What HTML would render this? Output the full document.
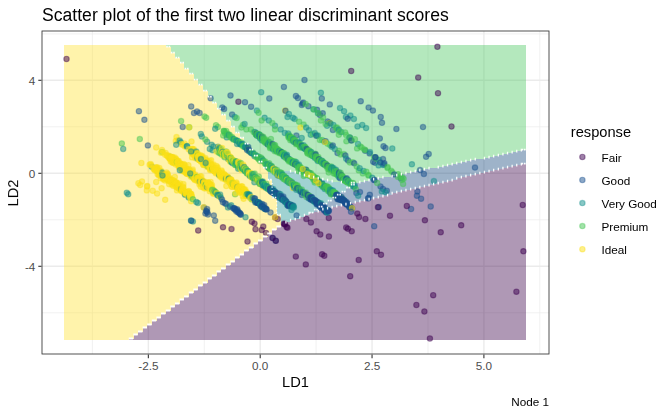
<!DOCTYPE html>
<html><head><meta charset="utf-8"><title>Scatter plot</title>
<style>
html,body{margin:0;padding:0;background:#fff;}
svg{display:block;}
text{font-family:"Liberation Sans",sans-serif;}
.tx{opacity:.999;}
.pt circle{fill-opacity:.5;stroke-opacity:.42;stroke-width:1.1;}
</style></head><body>
<svg width="672" height="415" viewBox="0 0 672 415">
<rect width="672" height="415" fill="#fff"/>

<g stroke="#ebebeb" fill="none">
<line x1="92.4" x2="92.4" y1="31" y2="354" stroke-width=".7"/>
<line x1="204.3" x2="204.3" y1="31" y2="354" stroke-width=".7"/>
<line x1="316.1" x2="316.1" y1="31" y2="354" stroke-width=".7"/>
<line x1="428" x2="428" y1="31" y2="354" stroke-width=".7"/>
<line x1="539.8" x2="539.8" y1="31" y2="354" stroke-width=".7"/>
<line x1="42" x2="549" y1="33.9" y2="33.9" stroke-width=".7"/>
<line x1="42" x2="549" y1="126.8" y2="126.8" stroke-width=".7"/>
<line x1="42" x2="549" y1="219.8" y2="219.8" stroke-width=".7"/>
<line x1="42" x2="549" y1="312.8" y2="312.8" stroke-width=".7"/>
<line x1="148.35" x2="148.35" y1="31" y2="354" stroke-width="1.4"/>
<line x1="260.2" x2="260.2" y1="31" y2="354" stroke-width="1.4"/>
<line x1="372.05" x2="372.05" y1="31" y2="354" stroke-width="1.4"/>
<line x1="483.9" x2="483.9" y1="31" y2="354" stroke-width="1.4"/>
<line x1="42" x2="549" y1="80.3" y2="80.3" stroke-width="1.4"/>
<line x1="42" x2="549" y1="173.3" y2="173.3" stroke-width="1.4"/>
<line x1="42" x2="549" y1="266.3" y2="266.3" stroke-width="1.4"/>
</g>
<g fill-opacity="0.42" shape-rendering="crispEdges">
<polygon fill="#ffe237" points="64.4,45.2 69.02,45.2 69.02,45.2 73.63,45.2 73.63,45.2 78.25,45.2 78.25,45.2 82.86,45.2 82.86,45.2 87.48,45.2 87.48,45.2 92.1,45.2 92.1,45.2 96.71,45.2 96.71,45.2 101.33,45.2 101.33,45.2 105.94,45.2 105.94,45.2 110.56,45.2 110.56,45.2 115.18,45.2 115.18,45.2 119.79,45.2 119.79,45.2 124.41,45.2 124.41,45.2 129.02,45.2 129.02,45.2 133.64,45.2 133.64,45.2 138.26,45.2 138.26,45.2 142.87,45.2 142.87,45.2 147.49,45.2 147.49,45.2 152.1,45.2 152.1,45.2 156.72,45.2 156.72,45.2 161.34,45.2 161.34,45.2 165.95,45.2 165.95,47 170.57,47 170.57,53 175.18,53 175.18,58 179.8,58 179.8,63 184.42,63 184.42,69 189.03,69 189.03,74 193.65,74 193.65,80 198.26,80 198.26,85 202.88,85 202.88,91 207.5,91 207.5,97 212.11,97 212.11,103 216.73,103 216.73,109 221.34,109 221.34,115 225.96,115 225.96,121 230.58,121 230.58,127 235.19,127 235.19,133 239.81,133 239.81,138 244.42,138 244.42,144 249.04,144 249.04,150 253.66,150 253.66,156 258.27,156 258.27,162 262.89,162 262.89,168 267.5,168 267.5,180 272.12,180 272.12,198 276.74,198 276.74,215 281.35,215 281.35,227 276.74,227 276.74,230 272.12,230 272.12,234 267.5,234 267.5,237 262.89,237 262.89,241 258.27,241 258.27,244 253.66,244 253.66,248 249.04,248 249.04,251 244.42,251 244.42,255 239.81,255 239.81,258 235.19,258 235.19,262 230.58,262 230.58,265 225.96,265 225.96,269 221.34,269 221.34,272 216.73,272 216.73,276 212.11,276 212.11,279 207.5,279 207.5,283 202.88,283 202.88,286 198.26,286 198.26,290 193.65,290 193.65,293 189.03,293 189.03,297 184.42,297 184.42,300 179.8,300 179.8,304 175.18,304 175.18,307 170.57,307 170.57,311 165.95,311 165.95,314 161.34,314 161.34,318 156.72,318 156.72,321 152.1,321 152.1,325 147.49,325 147.49,328 142.87,328 142.87,332 138.26,332 138.26,335 133.64,335 133.64,339 129.02,339 129.02,339.6 124.41,339.6 124.41,339.6 119.79,339.6 119.79,339.6 115.18,339.6 115.18,339.6 110.56,339.6 110.56,339.6 105.94,339.6 105.94,339.6 101.33,339.6 101.33,339.6 96.71,339.6 96.71,339.6 92.1,339.6 92.1,339.6 87.48,339.6 87.48,339.6 82.86,339.6 82.86,339.6 78.25,339.6 78.25,339.6 73.63,339.6 73.63,339.6 69.02,339.6 69.02,339.6 64.4,339.6"/>
<polygon fill="#4cc862" points="165.95,45.2 170.57,45.2 170.57,45.2 175.18,45.2 175.18,45.2 179.8,45.2 179.8,45.2 184.42,45.2 184.42,45.2 189.03,45.2 189.03,45.2 193.65,45.2 193.65,45.2 198.26,45.2 198.26,45.2 202.88,45.2 202.88,45.2 207.5,45.2 207.5,45.2 212.11,45.2 212.11,45.2 216.73,45.2 216.73,45.2 221.34,45.2 221.34,45.2 225.96,45.2 225.96,45.2 230.58,45.2 230.58,45.2 235.19,45.2 235.19,45.2 239.81,45.2 239.81,45.2 244.42,45.2 244.42,45.2 249.04,45.2 249.04,45.2 253.66,45.2 253.66,45.2 258.27,45.2 258.27,45.2 262.89,45.2 262.89,45.2 267.5,45.2 267.5,45.2 272.12,45.2 272.12,45.2 276.74,45.2 276.74,45.2 281.35,45.2 281.35,45.2 285.97,45.2 285.97,45.2 290.58,45.2 290.58,45.2 295.2,45.2 295.2,45.2 299.82,45.2 299.82,45.2 304.43,45.2 304.43,45.2 309.05,45.2 309.05,45.2 313.66,45.2 313.66,45.2 318.28,45.2 318.28,45.2 322.9,45.2 322.9,45.2 327.51,45.2 327.51,45.2 332.13,45.2 332.13,45.2 336.74,45.2 336.74,45.2 341.36,45.2 341.36,45.2 345.98,45.2 345.98,45.2 350.59,45.2 350.59,45.2 355.21,45.2 355.21,45.2 359.82,45.2 359.82,45.2 364.44,45.2 364.44,45.2 369.06,45.2 369.06,45.2 373.67,45.2 373.67,45.2 378.29,45.2 378.29,45.2 382.9,45.2 382.9,45.2 387.52,45.2 387.52,45.2 392.14,45.2 392.14,45.2 396.75,45.2 396.75,45.2 401.37,45.2 401.37,45.2 405.98,45.2 405.98,45.2 410.6,45.2 410.6,45.2 415.22,45.2 415.22,45.2 419.83,45.2 419.83,45.2 424.45,45.2 424.45,45.2 429.06,45.2 429.06,45.2 433.68,45.2 433.68,45.2 438.3,45.2 438.3,45.2 442.91,45.2 442.91,45.2 447.53,45.2 447.53,45.2 452.14,45.2 452.14,45.2 456.76,45.2 456.76,45.2 461.38,45.2 461.38,45.2 465.99,45.2 465.99,45.2 470.61,45.2 470.61,45.2 475.22,45.2 475.22,45.2 479.84,45.2 479.84,45.2 484.46,45.2 484.46,45.2 489.07,45.2 489.07,45.2 493.69,45.2 493.69,45.2 498.3,45.2 498.3,45.2 502.92,45.2 502.92,45.2 507.54,45.2 507.54,45.2 512.15,45.2 512.15,45.2 516.77,45.2 516.77,45.2 521.38,45.2 521.38,45.2 526,45.2 526,150 521.38,150 521.38,151 516.77,151 516.77,152 512.15,152 512.15,153 507.54,153 507.54,154 502.92,154 502.92,155 498.3,155 498.3,156 493.69,156 493.69,157 489.07,157 489.07,158 484.46,158 484.46,159 479.84,159 479.84,159 475.22,159 475.22,160 470.61,160 470.61,161 465.99,161 465.99,162 461.38,162 461.38,163 456.76,163 456.76,164 452.14,164 452.14,165 447.53,165 447.53,166 442.91,166 442.91,167 438.3,167 438.3,168 433.68,168 433.68,168 429.06,168 429.06,169 424.45,169 424.45,170 419.83,170 419.83,171 415.22,171 415.22,172 410.6,172 410.6,173 405.98,173 405.98,174 401.37,174 401.37,175 396.75,175 396.75,176 392.14,176 392.14,177 387.52,177 387.52,177 382.9,177 382.9,178 378.29,178 378.29,179 373.67,179 373.67,180 369.06,180 369.06,181 364.44,181 364.44,182 359.82,182 359.82,183 355.21,183 355.21,183 350.59,183 350.59,183 345.98,183 345.98,183 341.36,183 341.36,182 336.74,182 336.74,182 332.13,182 332.13,181 327.51,181 327.51,180 322.9,180 322.9,179 318.28,179 318.28,178 313.66,178 313.66,177 309.05,177 309.05,176 304.43,176 304.43,175 299.82,175 299.82,173 295.2,173 295.2,172 290.58,172 290.58,171 285.97,171 285.97,171 281.35,171 281.35,171 276.74,171 276.74,171 272.12,171 272.12,171 267.5,171 267.5,168 262.89,168 262.89,162 258.27,162 258.27,156 253.66,156 253.66,150 249.04,150 249.04,144 244.42,144 244.42,138 239.81,138 239.81,133 235.19,133 235.19,127 230.58,127 230.58,121 225.96,121 225.96,115 221.34,115 221.34,109 216.73,109 216.73,103 212.11,103 212.11,97 207.5,97 207.5,91 202.88,91 202.88,85 198.26,85 198.26,80 193.65,80 193.65,74 189.03,74 189.03,69 184.42,69 184.42,63 179.8,63 179.8,58 175.18,58 175.18,53 170.57,53 170.57,47 165.95,47"/>
<polygon fill="#1d9494" points="267.5,171 272.12,171 272.12,171 276.74,171 276.74,171 281.35,171 281.35,171 285.97,171 285.97,171 290.58,171 290.58,172 295.2,172 295.2,173 299.82,173 299.82,175 304.43,175 304.43,176 309.05,176 309.05,177 313.66,177 313.66,178 318.28,178 318.28,179 322.9,179 322.9,180 327.51,180 327.51,181 332.13,181 332.13,182 336.74,182 336.74,182 341.36,182 341.36,183 345.98,183 345.98,183 350.59,183 350.59,183 355.21,183 355.21,185 350.59,185 350.59,188 345.98,188 345.98,192 341.36,192 341.36,195 336.74,195 336.74,198 332.13,198 332.13,201 327.51,201 327.51,204 322.9,204 322.9,207 318.28,207 318.28,210 313.66,210 313.66,213 309.05,213 309.05,215 304.43,215 304.43,217 299.82,217 299.82,219 295.2,219 295.2,220 290.58,220 290.58,222 285.97,222 285.97,224 281.35,224 281.35,215 276.74,215 276.74,198 272.12,198 272.12,180 267.5,180"/>
<polygon fill="#184a7e" points="313.66,210 318.28,210 318.28,207 322.9,207 322.9,204 327.51,204 327.51,201 332.13,201 332.13,198 336.74,198 336.74,195 341.36,195 341.36,192 345.98,192 345.98,188 350.59,188 350.59,185 355.21,185 355.21,183 359.82,183 359.82,182 364.44,182 364.44,181 369.06,181 369.06,180 373.67,180 373.67,179 378.29,179 378.29,178 382.9,178 382.9,177 387.52,177 387.52,177 392.14,177 392.14,176 396.75,176 396.75,175 401.37,175 401.37,174 405.98,174 405.98,173 410.6,173 410.6,172 415.22,172 415.22,171 419.83,171 419.83,170 424.45,170 424.45,169 429.06,169 429.06,168 433.68,168 433.68,168 438.3,168 438.3,167 442.91,167 442.91,166 447.53,166 447.53,165 452.14,165 452.14,164 456.76,164 456.76,163 461.38,163 461.38,162 465.99,162 465.99,161 470.61,161 470.61,160 475.22,160 475.22,159 479.84,159 479.84,159 484.46,159 484.46,158 489.07,158 489.07,157 493.69,157 493.69,156 498.3,156 498.3,155 502.92,155 502.92,154 507.54,154 507.54,153 512.15,153 512.15,152 516.77,152 516.77,151 521.38,151 521.38,150 526,150 526,164 521.38,164 521.38,165 516.77,165 516.77,166 512.15,166 512.15,167 507.54,167 507.54,168 502.92,168 502.92,169 498.3,169 498.3,170 493.69,170 493.69,171 489.07,171 489.07,172 484.46,172 484.46,173 479.84,173 479.84,174 475.22,174 475.22,175 470.61,175 470.61,176 465.99,176 465.99,177 461.38,177 461.38,178 456.76,178 456.76,180 452.14,180 452.14,181 447.53,181 447.53,182 442.91,182 442.91,183 438.3,183 438.3,184 433.68,184 433.68,185 429.06,185 429.06,186 424.45,186 424.45,187 419.83,187 419.83,188 415.22,188 415.22,189 410.6,189 410.6,190 405.98,190 405.98,191 401.37,191 401.37,192 396.75,192 396.75,193 392.14,193 392.14,195 387.52,195 387.52,196 382.9,196 382.9,197 378.29,197 378.29,198 373.67,198 373.67,199 369.06,199 369.06,200 364.44,200 364.44,201 359.82,201 359.82,202 355.21,202 355.21,203 350.59,203 350.59,204 345.98,204 345.98,205 341.36,205 341.36,206 336.74,206 336.74,207 332.13,207 332.13,208 327.51,208 327.51,209 322.9,209 322.9,211 318.28,211 318.28,212 313.66,212"/>
<polygon fill="#410a4f" points="129.02,339 133.64,339 133.64,335 138.26,335 138.26,332 142.87,332 142.87,328 147.49,328 147.49,325 152.1,325 152.1,321 156.72,321 156.72,318 161.34,318 161.34,314 165.95,314 165.95,311 170.57,311 170.57,307 175.18,307 175.18,304 179.8,304 179.8,300 184.42,300 184.42,297 189.03,297 189.03,293 193.65,293 193.65,290 198.26,290 198.26,286 202.88,286 202.88,283 207.5,283 207.5,279 212.11,279 212.11,276 216.73,276 216.73,272 221.34,272 221.34,269 225.96,269 225.96,265 230.58,265 230.58,262 235.19,262 235.19,258 239.81,258 239.81,255 244.42,255 244.42,251 249.04,251 249.04,248 253.66,248 253.66,244 258.27,244 258.27,241 262.89,241 262.89,237 267.5,237 267.5,234 272.12,234 272.12,230 276.74,230 276.74,227 281.35,227 281.35,224 285.97,224 285.97,222 290.58,222 290.58,220 295.2,220 295.2,219 299.82,219 299.82,217 304.43,217 304.43,215 309.05,215 309.05,213 313.66,213 313.66,212 318.28,212 318.28,211 322.9,211 322.9,209 327.51,209 327.51,208 332.13,208 332.13,207 336.74,207 336.74,206 341.36,206 341.36,205 345.98,205 345.98,204 350.59,204 350.59,203 355.21,203 355.21,202 359.82,202 359.82,201 364.44,201 364.44,200 369.06,200 369.06,199 373.67,199 373.67,198 378.29,198 378.29,197 382.9,197 382.9,196 387.52,196 387.52,195 392.14,195 392.14,193 396.75,193 396.75,192 401.37,192 401.37,191 405.98,191 405.98,190 410.6,190 410.6,189 415.22,189 415.22,188 419.83,188 419.83,187 424.45,187 424.45,186 429.06,186 429.06,185 433.68,185 433.68,184 438.3,184 438.3,183 442.91,183 442.91,182 447.53,182 447.53,181 452.14,181 452.14,180 456.76,180 456.76,178 461.38,178 461.38,177 465.99,177 465.99,176 470.61,176 470.61,175 475.22,175 475.22,174 479.84,174 479.84,173 484.46,173 484.46,172 489.07,172 489.07,171 493.69,171 493.69,170 498.3,170 498.3,169 502.92,169 502.92,168 507.54,168 507.54,167 512.15,167 512.15,166 516.77,166 516.77,165 521.38,165 521.38,164 526,164 526,339.6 521.38,339.6 521.38,339.6 516.77,339.6 516.77,339.6 512.15,339.6 512.15,339.6 507.54,339.6 507.54,339.6 502.92,339.6 502.92,339.6 498.3,339.6 498.3,339.6 493.69,339.6 493.69,339.6 489.07,339.6 489.07,339.6 484.46,339.6 484.46,339.6 479.84,339.6 479.84,339.6 475.22,339.6 475.22,339.6 470.61,339.6 470.61,339.6 465.99,339.6 465.99,339.6 461.38,339.6 461.38,339.6 456.76,339.6 456.76,339.6 452.14,339.6 452.14,339.6 447.53,339.6 447.53,339.6 442.91,339.6 442.91,339.6 438.3,339.6 438.3,339.6 433.68,339.6 433.68,339.6 429.06,339.6 429.06,339.6 424.45,339.6 424.45,339.6 419.83,339.6 419.83,339.6 415.22,339.6 415.22,339.6 410.6,339.6 410.6,339.6 405.98,339.6 405.98,339.6 401.37,339.6 401.37,339.6 396.75,339.6 396.75,339.6 392.14,339.6 392.14,339.6 387.52,339.6 387.52,339.6 382.9,339.6 382.9,339.6 378.29,339.6 378.29,339.6 373.67,339.6 373.67,339.6 369.06,339.6 369.06,339.6 364.44,339.6 364.44,339.6 359.82,339.6 359.82,339.6 355.21,339.6 355.21,339.6 350.59,339.6 350.59,339.6 345.98,339.6 345.98,339.6 341.36,339.6 341.36,339.6 336.74,339.6 336.74,339.6 332.13,339.6 332.13,339.6 327.51,339.6 327.51,339.6 322.9,339.6 322.9,339.6 318.28,339.6 318.28,339.6 313.66,339.6 313.66,339.6 309.05,339.6 309.05,339.6 304.43,339.6 304.43,339.6 299.82,339.6 299.82,339.6 295.2,339.6 295.2,339.6 290.58,339.6 290.58,339.6 285.97,339.6 285.97,339.6 281.35,339.6 281.35,339.6 276.74,339.6 276.74,339.6 272.12,339.6 272.12,339.6 267.5,339.6 267.5,339.6 262.89,339.6 262.89,339.6 258.27,339.6 258.27,339.6 253.66,339.6 253.66,339.6 249.04,339.6 249.04,339.6 244.42,339.6 244.42,339.6 239.81,339.6 239.81,339.6 235.19,339.6 235.19,339.6 230.58,339.6 230.58,339.6 225.96,339.6 225.96,339.6 221.34,339.6 221.34,339.6 216.73,339.6 216.73,339.6 212.11,339.6 212.11,339.6 207.5,339.6 207.5,339.6 202.88,339.6 202.88,339.6 198.26,339.6 198.26,339.6 193.65,339.6 193.65,339.6 189.03,339.6 189.03,339.6 184.42,339.6 184.42,339.6 179.8,339.6 179.8,339.6 175.18,339.6 175.18,339.6 170.57,339.6 170.57,339.6 165.95,339.6 165.95,339.6 161.34,339.6 161.34,339.6 156.72,339.6 156.72,339.6 152.1,339.6 152.1,339.6 147.49,339.6 147.49,339.6 142.87,339.6 142.87,339.6 138.26,339.6 138.26,339.6 133.64,339.6 133.64,339.6 129.02,339.6"/>
</g>
<g class="pt">
<g fill="#3e0252" stroke="#3e0252">
<circle cx="66.5" cy="59" r="2.7"/>
<circle cx="351.2" cy="71" r="2.7"/>
<circle cx="418.2" cy="77.6" r="2.7"/>
<circle cx="437.4" cy="46.8" r="2.7"/>
<circle cx="438" cy="93.2" r="2.7"/>
<circle cx="451.5" cy="126.5" r="2.7"/>
</g>
<g fill="#1a5290" stroke="#1a5290">
<circle cx="138.9" cy="111.2" r="2.7"/>
<circle cx="144.4" cy="119.8" r="2.7"/>
<circle cx="191.2" cy="106.5" r="2.7"/>
<circle cx="194" cy="113" r="2.7"/>
<circle cx="197" cy="111.5" r="2.7"/>
<circle cx="199.6" cy="112.9" r="2.7"/>
<circle cx="182.7" cy="126.9" r="2.7"/>
</g>
<g fill="#46c554" stroke="#46c554">
<circle cx="204.5" cy="116.5" r="2.7"/>
<circle cx="206.2" cy="117.7" r="2.7"/>
<circle cx="181.1" cy="121.1" r="2.7"/>
<circle cx="189.2" cy="127.3" r="2.7"/>
</g>
<g fill="#fbe018" stroke="#fbe018">
<circle cx="189.2" cy="127.3" r="2.7"/>
</g>
<g fill="#12908c" stroke="#12908c">
<circle cx="200.8" cy="134" r="2.7"/>
</g>
<g fill="#46c554" stroke="#46c554">
<circle cx="121.8" cy="143.4" r="2.7"/>
<circle cx="139.8" cy="139.1" r="2.7"/>
<circle cx="162.1" cy="152" r="2.7"/>
</g>
<g fill="#12908c" stroke="#12908c">
<circle cx="123.2" cy="148.9" r="2.7"/>
<circle cx="126.8" cy="192.7" r="2.7"/>
<circle cx="128.2" cy="194.3" r="2.7"/>
<circle cx="151.8" cy="166.8" r="2.7"/>
</g>
<g fill="#1a5290" stroke="#1a5290">
<circle cx="147.9" cy="145.4" r="2.7"/>
</g>
<g fill="#fbe018" stroke="#fbe018">
<circle cx="156.2" cy="147.5" r="2.7"/>
<circle cx="167" cy="155.5" r="2.7"/>
<circle cx="167.9" cy="156.8" r="2.7"/>
<circle cx="141.4" cy="163" r="2.7"/>
<circle cx="149.6" cy="164.7" r="2.7"/>
<circle cx="138.4" cy="183.2" r="2.7"/>
<circle cx="142" cy="181.4" r="2.7"/>
<circle cx="140.2" cy="185" r="2.7"/>
<circle cx="147.3" cy="185.9" r="2.7"/>
<circle cx="147" cy="186.5" r="2.7"/>
<circle cx="146.8" cy="190.4" r="2.7"/>
<circle cx="152.7" cy="190.7" r="2.7"/>
<circle cx="157.1" cy="193.6" r="2.7"/>
<circle cx="161.6" cy="188.2" r="2.7"/>
<circle cx="165.2" cy="199.8" r="2.7"/>
</g>
<g fill="#12908c" stroke="#12908c">
<circle cx="191" cy="220.4" r="2.7"/>
<circle cx="192.9" cy="221.6" r="2.7"/>
</g>
<g fill="#1a5290" stroke="#1a5290">
<circle cx="191.3" cy="220.8" r="2.7"/>
<circle cx="304.5" cy="79.9" r="2.7"/>
<circle cx="283.9" cy="86.9" r="2.7"/>
<circle cx="230.5" cy="95.5" r="2.7"/>
<circle cx="269.3" cy="98.5" r="2.7"/>
<circle cx="210.6" cy="98.3" r="2.7"/>
<circle cx="245" cy="102.2" r="2.7"/>
<circle cx="251.1" cy="106.7" r="2.7"/>
<circle cx="222.3" cy="107.4" r="2.7"/>
<circle cx="224.1" cy="108.9" r="2.7"/>
<circle cx="232.1" cy="114.6" r="2.7"/>
</g>
<g fill="#3e0252" stroke="#3e0252">
<circle cx="238.4" cy="101.7" r="2.7"/>
</g>
<g fill="#12908c" stroke="#12908c">
<circle cx="261.2" cy="92.2" r="2.7"/>
<circle cx="256.8" cy="110.6" r="2.7"/>
<circle cx="234.8" cy="116.9" r="2.7"/>
</g>
<g fill="#46c554" stroke="#46c554">
<circle cx="258.6" cy="112.8" r="2.7"/>
<circle cx="236.6" cy="118.1" r="2.7"/>
</g>
<g fill="#1a5290" stroke="#1a5290">
<circle cx="295.9" cy="96" r="2.7"/>
<circle cx="297.9" cy="98.1" r="2.7"/>
<circle cx="303.2" cy="102.6" r="2.7"/>
<circle cx="301.8" cy="104.9" r="2.7"/>
<circle cx="302.6" cy="103.5" r="2.7"/>
<circle cx="308.4" cy="106.2" r="2.7"/>
<circle cx="317" cy="109.8" r="2.7"/>
</g>
<g fill="#46c554" stroke="#46c554">
<circle cx="305.7" cy="103.9" r="2.7"/>
</g>
<g fill="#12908c" stroke="#12908c">
<circle cx="313.4" cy="109.2" r="2.7"/>
<circle cx="317.9" cy="113.3" r="2.7"/>
</g>
<g fill="#46c554" stroke="#46c554">
<circle cx="313.9" cy="109.6" r="2.7"/>
</g>
<g fill="#fbe018" stroke="#fbe018">
<circle cx="285.2" cy="110.6" r="2.7"/>
</g>
<g fill="#1a5290" stroke="#1a5290">
<circle cx="285.5" cy="110.8" r="2.7"/>
</g>
<g fill="#12908c" stroke="#12908c">
<circle cx="288.9" cy="113.9" r="2.7"/>
<circle cx="287.5" cy="116.9" r="2.7"/>
<circle cx="292.9" cy="117.8" r="2.7"/>
<circle cx="294.6" cy="118.9" r="2.7"/>
</g>
<g fill="#46c554" stroke="#46c554">
<circle cx="299.1" cy="121.7" r="2.7"/>
<circle cx="303.6" cy="124.6" r="2.7"/>
</g>
<g fill="#fbe018" stroke="#fbe018">
<circle cx="300.5" cy="127.6" r="2.7"/>
</g>
<g fill="#12908c" stroke="#12908c">
<circle cx="306.2" cy="127.6" r="2.7"/>
<circle cx="308.9" cy="130.3" r="2.7"/>
<circle cx="310.7" cy="134.8" r="2.7"/>
</g>
<g fill="#1a5290" stroke="#1a5290">
<circle cx="296.4" cy="135.6" r="2.7"/>
</g>
<g fill="#46c554" stroke="#46c554">
<circle cx="317" cy="135.6" r="2.7"/>
</g>
<g fill="#12908c" stroke="#12908c">
<circle cx="264.6" cy="117.8" r="2.7"/>
<circle cx="268.8" cy="120.5" r="2.7"/>
<circle cx="275" cy="125.8" r="2.7"/>
<circle cx="280.7" cy="129.4" r="2.7"/>
<circle cx="284.8" cy="133" r="2.7"/>
</g>
<g fill="#46c554" stroke="#46c554">
<circle cx="261.6" cy="120.5" r="2.7"/>
<circle cx="272.3" cy="123.1" r="2.7"/>
<circle cx="275" cy="129.4" r="2.7"/>
<circle cx="288.4" cy="135.6" r="2.7"/>
</g>
<g fill="#1a5290" stroke="#1a5290">
<circle cx="291" cy="138.3" r="2.7"/>
</g>
<g fill="#46c554" stroke="#46c554">
<circle cx="242.9" cy="124.9" r="2.7"/>
<circle cx="241.4" cy="127.6" r="2.7"/>
<circle cx="246.4" cy="129.4" r="2.7"/>
<circle cx="250.9" cy="129.4" r="2.7"/>
<circle cx="253.6" cy="132.1" r="2.7"/>
<circle cx="256.2" cy="134.8" r="2.7"/>
<circle cx="258.9" cy="136.5" r="2.7"/>
</g>
<g fill="#12908c" stroke="#12908c">
<circle cx="244.6" cy="124" r="2.7"/>
</g>
<g fill="#46c554" stroke="#46c554">
<circle cx="216" cy="125.2" r="2.7"/>
<circle cx="217.9" cy="127" r="2.7"/>
<circle cx="225" cy="133.5" r="2.7"/>
<circle cx="223.2" cy="135.6" r="2.7"/>
</g>
<g fill="#12908c" stroke="#12908c">
<circle cx="215.2" cy="128.8" r="2.7"/>
<circle cx="226.8" cy="137.4" r="2.7"/>
<circle cx="201.8" cy="136.5" r="2.7"/>
<circle cx="320.9" cy="92.8" r="2.7"/>
<circle cx="340" cy="108.1" r="2.7"/>
<circle cx="344.1" cy="111.2" r="2.7"/>
<circle cx="345.9" cy="116.9" r="2.7"/>
<circle cx="350.4" cy="115.6" r="2.7"/>
<circle cx="353.9" cy="118.9" r="2.7"/>
<circle cx="357.5" cy="126.4" r="2.7"/>
<circle cx="362.3" cy="124.9" r="2.7"/>
<circle cx="366.1" cy="128.1" r="2.7"/>
<circle cx="392.3" cy="148.5" r="2.7"/>
<circle cx="411.9" cy="164.3" r="2.7"/>
<circle cx="433.9" cy="181.1" r="2.7"/>
</g>
<g fill="#1a5290" stroke="#1a5290">
<circle cx="321.8" cy="98.5" r="2.7"/>
<circle cx="329.8" cy="104.4" r="2.7"/>
<circle cx="347.7" cy="118.7" r="2.7"/>
<circle cx="360.7" cy="101.2" r="2.7"/>
<circle cx="368.6" cy="107.6" r="2.7"/>
<circle cx="372.9" cy="110.6" r="2.7"/>
<circle cx="380.7" cy="116.9" r="2.7"/>
<circle cx="382" cy="122.8" r="2.7"/>
<circle cx="396.4" cy="128.9" r="2.7"/>
<circle cx="423" cy="127.1" r="2.7"/>
<circle cx="379.8" cy="138.5" r="2.7"/>
<circle cx="383.5" cy="146.3" r="2.7"/>
<circle cx="385.5" cy="148" r="2.7"/>
<circle cx="428.7" cy="154" r="2.7"/>
<circle cx="426.1" cy="156.8" r="2.7"/>
<circle cx="420.1" cy="170.1" r="2.7"/>
<circle cx="423.9" cy="173.9" r="2.7"/>
<circle cx="475" cy="167.6" r="2.7"/>
<circle cx="322.7" cy="113.3" r="2.7"/>
<circle cx="320" cy="115.1" r="2.7"/>
<circle cx="327.5" cy="121.4" r="2.7"/>
<circle cx="332.9" cy="129.9" r="2.7"/>
<circle cx="350" cy="137.7" r="2.7"/>
<circle cx="365.2" cy="150.7" r="2.7"/>
<circle cx="369.6" cy="153.4" r="2.7"/>
<circle cx="373.2" cy="161.8" r="2.7"/>
<circle cx="375" cy="162.7" r="2.7"/>
<circle cx="383" cy="159.1" r="2.7"/>
<circle cx="383.9" cy="164.5" r="2.7"/>
<circle cx="400.8" cy="178.3" r="2.7"/>
</g>
<g fill="#46c554" stroke="#46c554">
<circle cx="320.9" cy="120.5" r="2.7"/>
<circle cx="337" cy="127.6" r="2.7"/>
<circle cx="337.9" cy="130.3" r="2.7"/>
<circle cx="338.8" cy="134.8" r="2.7"/>
<circle cx="346.1" cy="134.9" r="2.7"/>
<circle cx="346.4" cy="141.2" r="2.7"/>
<circle cx="351.8" cy="140.4" r="2.7"/>
<circle cx="361.6" cy="147.5" r="2.7"/>
<circle cx="357.1" cy="148.4" r="2.7"/>
<circle cx="374.1" cy="157.3" r="2.7"/>
<circle cx="376.8" cy="159.1" r="2.7"/>
<circle cx="387.5" cy="168" r="2.7"/>
<circle cx="391.1" cy="170.7" r="2.7"/>
<circle cx="398.2" cy="174.3" r="2.7"/>
<circle cx="403.6" cy="178.8" r="2.7"/>
<circle cx="398" cy="177.1" r="2.7"/>
<circle cx="401.8" cy="180.1" r="2.7"/>
<circle cx="403.1" cy="183.9" r="2.7"/>
</g>
<g fill="#1a5290" stroke="#1a5290">
<circle cx="329.5" cy="122.8" r="2.7"/>
</g>
<g fill="#fbe018" stroke="#fbe018">
<circle cx="329.8" cy="123.1" r="2.7"/>
</g>
<g fill="#12908c" stroke="#12908c">
<circle cx="327.1" cy="125.8" r="2.7"/>
<circle cx="333.4" cy="124.9" r="2.7"/>
<circle cx="341.4" cy="132.1" r="2.7"/>
<circle cx="349.5" cy="137.4" r="2.7"/>
<circle cx="358" cy="143.9" r="2.7"/>
<circle cx="378.6" cy="165.4" r="2.7"/>
<circle cx="379.2" cy="160" r="2.7"/>
<circle cx="383" cy="165" r="2.7"/>
</g>
<g fill="#1a5290" stroke="#1a5290">
<circle cx="417.4" cy="191.4" r="2.7"/>
<circle cx="416.9" cy="195.7" r="2.7"/>
<circle cx="421.1" cy="198.7" r="2.7"/>
<circle cx="430.7" cy="206.5" r="2.7"/>
<circle cx="411.1" cy="209" r="2.7"/>
<circle cx="378.8" cy="207" r="2.7"/>
<circle cx="380.5" cy="186.4" r="2.7"/>
<circle cx="383" cy="188.9" r="2.7"/>
<circle cx="386.8" cy="190.7" r="2.7"/>
</g>
<g fill="#12908c" stroke="#12908c">
<circle cx="381.8" cy="191.4" r="2.7"/>
<circle cx="385.5" cy="192.2" r="2.7"/>
</g>
<g fill="#3e0252" stroke="#3e0252">
<circle cx="406.8" cy="206" r="2.7"/>
<circle cx="390" cy="215.7" r="2.7"/>
<circle cx="424.9" cy="220.3" r="2.7"/>
<circle cx="461.2" cy="225.3" r="2.7"/>
<circle cx="440.7" cy="232.3" r="2.7"/>
<circle cx="522.7" cy="205" r="2.7"/>
<circle cx="523.4" cy="251.3" r="2.7"/>
<circle cx="516.4" cy="291.7" r="2.7"/>
<circle cx="433.2" cy="295.2" r="2.7"/>
<circle cx="416.4" cy="305" r="2.7"/>
<circle cx="424.4" cy="311.5" r="2.7"/>
<circle cx="429.9" cy="338.5" r="2.7"/>
<circle cx="381" cy="254.8" r="2.7"/>
<circle cx="223" cy="227.3" r="2.7"/>
<circle cx="231.5" cy="229.1" r="2.7"/>
<circle cx="247.5" cy="241.6" r="2.7"/>
<circle cx="251.8" cy="221.8" r="2.7"/>
<circle cx="254.5" cy="223.6" r="2.7"/>
<circle cx="255.5" cy="229.2" r="2.7"/>
<circle cx="261.7" cy="229.9" r="2.7"/>
<circle cx="263.3" cy="226.6" r="2.7"/>
<circle cx="266" cy="232.9" r="2.7"/>
<circle cx="198.2" cy="230.5" r="2.7"/>
<circle cx="277.7" cy="219.1" r="2.7"/>
<circle cx="283.9" cy="223.6" r="2.7"/>
<circle cx="286.6" cy="227.1" r="2.7"/>
<circle cx="285" cy="224.5" r="2.7"/>
<circle cx="287.5" cy="227.8" r="2.7"/>
<circle cx="284.5" cy="224" r="2.7"/>
</g>
<g fill="#1a5290" stroke="#1a5290">
<circle cx="272.7" cy="238" r="2.7"/>
<circle cx="275.7" cy="240.8" r="2.7"/>
</g>
<g fill="#3e0252" stroke="#3e0252">
<circle cx="272.5" cy="238" r="2.7"/>
<circle cx="275.8" cy="240.7" r="2.7"/>
<circle cx="306.4" cy="218.9" r="2.7"/>
<circle cx="310.9" cy="222.5" r="2.7"/>
<circle cx="316.6" cy="231.3" r="2.7"/>
<circle cx="320.3" cy="234.5" r="2.7"/>
<circle cx="328.9" cy="236.5" r="2.7"/>
<circle cx="328.8" cy="218" r="2.7"/>
<circle cx="346.2" cy="227.5" r="2.7"/>
<circle cx="347.9" cy="228.8" r="2.7"/>
<circle cx="351.7" cy="231.3" r="2.7"/>
<circle cx="357.3" cy="213.6" r="2.7"/>
<circle cx="359.1" cy="217.1" r="2.7"/>
<circle cx="365.4" cy="218.9" r="2.7"/>
<circle cx="377.9" cy="207.3" r="2.7"/>
<circle cx="376.8" cy="251.3" r="2.7"/>
<circle cx="295.8" cy="256.6" r="2.7"/>
<circle cx="305.8" cy="264.4" r="2.7"/>
<circle cx="322.1" cy="254.3" r="2.7"/>
<circle cx="324.3" cy="255.8" r="2.7"/>
<circle cx="358.7" cy="259.9" r="2.7"/>
<circle cx="350.2" cy="276.2" r="2.7"/>
</g>
<g fill="#1a5290" stroke="#1a5290">
<circle cx="374.2" cy="226.2" r="2.7"/>
</g>
<g fill="#fbe018" stroke="#fbe018">
<circle cx="155.1" cy="170.5" r="2.7"/>
<circle cx="155.5" cy="167.7" r="2.7"/>
<circle cx="155.6" cy="169.1" r="2.7"/>
<circle cx="155.8" cy="168.2" r="2.7"/>
<circle cx="156.2" cy="182" r="2.7"/>
<circle cx="156.4" cy="168.9" r="2.7"/>
<circle cx="156.5" cy="170.8" r="2.7"/>
<circle cx="156.9" cy="170.3" r="2.7"/>
<circle cx="157.1" cy="167.2" r="2.7"/>
<circle cx="157.3" cy="169.8" r="2.7"/>
<circle cx="157.6" cy="174.2" r="2.7"/>
<circle cx="157.8" cy="170.5" r="2.7"/>
<circle cx="158.1" cy="171" r="2.7"/>
<circle cx="158.3" cy="169" r="2.7"/>
<circle cx="158.7" cy="174" r="2.7"/>
<circle cx="158.9" cy="175.6" r="2.7"/>
<circle cx="159" cy="171.8" r="2.7"/>
<circle cx="159.4" cy="167.9" r="2.7"/>
<circle cx="159.7" cy="172.1" r="2.7"/>
<circle cx="159.9" cy="173.1" r="2.7"/>
<circle cx="160.2" cy="173.6" r="2.7"/>
<circle cx="160.4" cy="175.6" r="2.7"/>
<circle cx="160.6" cy="172.1" r="2.7"/>
<circle cx="160.9" cy="178.2" r="2.7"/>
<circle cx="161.1" cy="174.8" r="2.7"/>
<circle cx="161.3" cy="171" r="2.7"/>
<circle cx="161.6" cy="172.7" r="2.7"/>
<circle cx="161.8" cy="175.1" r="2.7"/>
</g>
<g fill="#12908c" stroke="#12908c">
<circle cx="162.1" cy="172.4" r="2.7"/>
</g>
<g fill="#fbe018" stroke="#fbe018">
<circle cx="162.4" cy="175.7" r="2.7"/>
<circle cx="162.8" cy="176.9" r="2.7"/>
<circle cx="163" cy="178.1" r="2.7"/>
<circle cx="163.2" cy="176.4" r="2.7"/>
<circle cx="163.4" cy="179.5" r="2.7"/>
<circle cx="163.6" cy="178.6" r="2.7"/>
<circle cx="163.9" cy="174.9" r="2.7"/>
<circle cx="164.2" cy="176.9" r="2.7"/>
<circle cx="164.3" cy="178.4" r="2.7"/>
<circle cx="164.8" cy="175.1" r="2.7"/>
<circle cx="165" cy="180.5" r="2.7"/>
<circle cx="165.2" cy="177.1" r="2.7"/>
<circle cx="165.6" cy="178.2" r="2.7"/>
<circle cx="165.8" cy="175" r="2.7"/>
<circle cx="166.1" cy="174.4" r="2.7"/>
<circle cx="166.1" cy="175.4" r="2.7"/>
<circle cx="166.5" cy="172.4" r="2.7"/>
<circle cx="166.8" cy="178.2" r="2.7"/>
<circle cx="166.9" cy="177.6" r="2.7"/>
<circle cx="167.3" cy="179" r="2.7"/>
<circle cx="167.4" cy="173.6" r="2.7"/>
<circle cx="167.8" cy="179.3" r="2.7"/>
<circle cx="167.8" cy="174.4" r="2.7"/>
<circle cx="168.2" cy="181.1" r="2.7"/>
<circle cx="168.6" cy="180.2" r="2.7"/>
<circle cx="168.8" cy="176.9" r="2.7"/>
<circle cx="168.9" cy="179.7" r="2.7"/>
<circle cx="169.2" cy="184.3" r="2.7"/>
<circle cx="169.5" cy="180.2" r="2.7"/>
<circle cx="169.7" cy="179" r="2.7"/>
<circle cx="169.9" cy="180.7" r="2.7"/>
<circle cx="170.2" cy="178.6" r="2.7"/>
<circle cx="170.5" cy="180.4" r="2.7"/>
<circle cx="170.8" cy="181" r="2.7"/>
<circle cx="171" cy="182" r="2.7"/>
<circle cx="171.1" cy="181.3" r="2.7"/>
<circle cx="171.6" cy="180.8" r="2.7"/>
<circle cx="171.6" cy="184.6" r="2.7"/>
<circle cx="172" cy="179.8" r="2.7"/>
<circle cx="172.3" cy="180.5" r="2.7"/>
<circle cx="172.4" cy="180.5" r="2.7"/>
<circle cx="172.8" cy="180.3" r="2.7"/>
<circle cx="172.9" cy="184.5" r="2.7"/>
<circle cx="173.2" cy="182" r="2.7"/>
<circle cx="173.4" cy="186" r="2.7"/>
<circle cx="173.7" cy="181.5" r="2.7"/>
<circle cx="174" cy="181.6" r="2.7"/>
<circle cx="174.2" cy="183.3" r="2.7"/>
<circle cx="174.4" cy="180.9" r="2.7"/>
<circle cx="174.8" cy="176.9" r="2.7"/>
<circle cx="175" cy="183.8" r="2.7"/>
<circle cx="175.2" cy="185.5" r="2.7"/>
<circle cx="175.5" cy="183" r="2.7"/>
<circle cx="175.6" cy="182.9" r="2.7"/>
<circle cx="176.1" cy="182.7" r="2.7"/>
<circle cx="176.4" cy="187.3" r="2.7"/>
<circle cx="176.6" cy="182.4" r="2.7"/>
<circle cx="176.7" cy="183.1" r="2.7"/>
<circle cx="177" cy="190.4" r="2.7"/>
<circle cx="177.2" cy="187.2" r="2.7"/>
<circle cx="177.6" cy="186.2" r="2.7"/>
<circle cx="177.7" cy="185.4" r="2.7"/>
<circle cx="178" cy="186.3" r="2.7"/>
<circle cx="178.3" cy="188.3" r="2.7"/>
<circle cx="178.6" cy="185.1" r="2.7"/>
<circle cx="178.8" cy="186.8" r="2.7"/>
<circle cx="179" cy="184.7" r="2.7"/>
<circle cx="179.2" cy="188.3" r="2.7"/>
<circle cx="179.5" cy="186.4" r="2.7"/>
<circle cx="179.8" cy="189.1" r="2.7"/>
<circle cx="180.1" cy="189.6" r="2.7"/>
<circle cx="180.2" cy="183.4" r="2.7"/>
<circle cx="180.6" cy="189.8" r="2.7"/>
<circle cx="180.9" cy="189.4" r="2.7"/>
</g>
<g fill="#12908c" stroke="#12908c">
<circle cx="181.1" cy="189.1" r="2.7"/>
</g>
<g fill="#fbe018" stroke="#fbe018">
<circle cx="181.4" cy="188.8" r="2.7"/>
<circle cx="181.5" cy="191.2" r="2.7"/>
<circle cx="181.9" cy="190.7" r="2.7"/>
<circle cx="182.2" cy="190.6" r="2.7"/>
<circle cx="182.4" cy="189.9" r="2.7"/>
<circle cx="182.5" cy="189.8" r="2.7"/>
<circle cx="182.8" cy="186.4" r="2.7"/>
<circle cx="183" cy="188" r="2.7"/>
<circle cx="183.4" cy="184.1" r="2.7"/>
<circle cx="183.5" cy="187.6" r="2.7"/>
<circle cx="183.8" cy="191.1" r="2.7"/>
<circle cx="184.2" cy="193.3" r="2.7"/>
<circle cx="184.4" cy="192.1" r="2.7"/>
<circle cx="184.7" cy="193.7" r="2.7"/>
<circle cx="184.9" cy="191.7" r="2.7"/>
</g>
<g fill="#12908c" stroke="#12908c">
<circle cx="185.1" cy="194.7" r="2.7"/>
</g>
<g fill="#fbe018" stroke="#fbe018">
<circle cx="185.3" cy="193.2" r="2.7"/>
<circle cx="185.7" cy="193.4" r="2.7"/>
<circle cx="185.9" cy="193.1" r="2.7"/>
<circle cx="186.1" cy="192.2" r="2.7"/>
<circle cx="186.4" cy="192.2" r="2.7"/>
<circle cx="186.6" cy="192.8" r="2.7"/>
<circle cx="186.8" cy="193.8" r="2.7"/>
<circle cx="187.2" cy="194" r="2.7"/>
<circle cx="187.4" cy="193" r="2.7"/>
<circle cx="187.6" cy="192.7" r="2.7"/>
<circle cx="187.8" cy="191.7" r="2.7"/>
<circle cx="188.2" cy="196" r="2.7"/>
<circle cx="188.3" cy="196.5" r="2.7"/>
<circle cx="188.6" cy="191.1" r="2.7"/>
</g>
<g fill="#12908c" stroke="#12908c">
<circle cx="188.7" cy="197.5" r="2.7"/>
</g>
<g fill="#fbe018" stroke="#fbe018">
<circle cx="189.1" cy="191.6" r="2.7"/>
<circle cx="189.4" cy="195" r="2.7"/>
<circle cx="189.7" cy="193.5" r="2.7"/>
<circle cx="190" cy="194.1" r="2.7"/>
<circle cx="190.2" cy="197.7" r="2.7"/>
<circle cx="190.3" cy="196.1" r="2.7"/>
<circle cx="190.5" cy="194.1" r="2.7"/>
<circle cx="191" cy="194.3" r="2.7"/>
<circle cx="191.1" cy="201.2" r="2.7"/>
<circle cx="191.3" cy="194" r="2.7"/>
<circle cx="191.7" cy="196.4" r="2.7"/>
<circle cx="191.8" cy="196.6" r="2.7"/>
<circle cx="150.6" cy="163.9" r="2.7"/>
<circle cx="151.2" cy="165.2" r="2.7"/>
<circle cx="153.4" cy="168.4" r="2.7"/>
<circle cx="154.2" cy="169.4" r="2.7"/>
<circle cx="155" cy="169.3" r="2.7"/>
<circle cx="156.3" cy="167.5" r="2.7"/>
<circle cx="157.3" cy="170.3" r="2.7"/>
</g>
<g fill="#46c554" stroke="#46c554">
<circle cx="192.9" cy="199.3" r="2.7"/>
</g>
<g fill="#12908c" stroke="#12908c">
<circle cx="196.4" cy="202" r="2.7"/>
<circle cx="197.9" cy="202.9" r="2.7"/>
</g>
<g fill="#1a5290" stroke="#1a5290">
<circle cx="203.9" cy="207.6" r="2.7"/>
</g>
<g fill="#fbe018" stroke="#fbe018">
<circle cx="203.6" cy="207.3" r="2.7"/>
</g>
<g fill="#1a5290" stroke="#1a5290">
<circle cx="205.4" cy="213.6" r="2.7"/>
<circle cx="206.2" cy="210.9" r="2.7"/>
<circle cx="207.1" cy="209.1" r="2.7"/>
<circle cx="208" cy="214.5" r="2.7"/>
<circle cx="206.6" cy="211.5" r="2.7"/>
<circle cx="207.4" cy="212.6" r="2.7"/>
<circle cx="213.8" cy="215.4" r="2.7"/>
<circle cx="215.2" cy="220.7" r="2.7"/>
</g>
<g fill="#12908c" stroke="#12908c">
<circle cx="162.5" cy="175.6" r="2.7"/>
</g>
<g fill="#fbe018" stroke="#fbe018">
<circle cx="169.1" cy="155.7" r="2.7"/>
<circle cx="169.3" cy="158.1" r="2.7"/>
<circle cx="169.6" cy="158.7" r="2.7"/>
<circle cx="169.8" cy="157.5" r="2.7"/>
<circle cx="170" cy="157.4" r="2.7"/>
</g>
<g fill="#12908c" stroke="#12908c">
<circle cx="170.4" cy="157.1" r="2.7"/>
</g>
<g fill="#fbe018" stroke="#fbe018">
<circle cx="170.4" cy="157.8" r="2.7"/>
<circle cx="170.7" cy="161.4" r="2.7"/>
<circle cx="171" cy="159.7" r="2.7"/>
<circle cx="171.1" cy="157.9" r="2.7"/>
<circle cx="171.3" cy="157.8" r="2.7"/>
<circle cx="171.6" cy="159.6" r="2.7"/>
<circle cx="171.9" cy="158.1" r="2.7"/>
<circle cx="172.1" cy="157.3" r="2.7"/>
<circle cx="172.4" cy="162.5" r="2.7"/>
<circle cx="172.6" cy="162.2" r="2.7"/>
<circle cx="172.7" cy="157.1" r="2.7"/>
<circle cx="173" cy="158.7" r="2.7"/>
<circle cx="173.2" cy="161" r="2.7"/>
<circle cx="173.4" cy="162.9" r="2.7"/>
<circle cx="173.6" cy="160.9" r="2.7"/>
<circle cx="173.8" cy="162" r="2.7"/>
<circle cx="174.1" cy="158.8" r="2.7"/>
<circle cx="174.4" cy="161" r="2.7"/>
<circle cx="174.7" cy="157.6" r="2.7"/>
<circle cx="174.9" cy="162.4" r="2.7"/>
<circle cx="175.1" cy="162.1" r="2.7"/>
<circle cx="175.4" cy="162.6" r="2.7"/>
<circle cx="175.6" cy="162.9" r="2.7"/>
<circle cx="175.7" cy="164.5" r="2.7"/>
<circle cx="176" cy="158.7" r="2.7"/>
<circle cx="176.2" cy="160.7" r="2.7"/>
<circle cx="176.4" cy="159.9" r="2.7"/>
<circle cx="176.7" cy="160.8" r="2.7"/>
</g>
<g fill="#46c554" stroke="#46c554">
<circle cx="177" cy="161.9" r="2.7"/>
</g>
<g fill="#fbe018" stroke="#fbe018">
<circle cx="177.1" cy="161.4" r="2.7"/>
<circle cx="177.4" cy="162.5" r="2.7"/>
<circle cx="177.7" cy="161.9" r="2.7"/>
<circle cx="177.8" cy="163.1" r="2.7"/>
<circle cx="178" cy="161.3" r="2.7"/>
<circle cx="178.3" cy="164.8" r="2.7"/>
<circle cx="178.6" cy="160.9" r="2.7"/>
<circle cx="178.8" cy="166.1" r="2.7"/>
<circle cx="178.9" cy="167.2" r="2.7"/>
<circle cx="179.1" cy="164.3" r="2.7"/>
<circle cx="179.5" cy="165.2" r="2.7"/>
<circle cx="179.6" cy="164.1" r="2.7"/>
<circle cx="180" cy="166.5" r="2.7"/>
<circle cx="180.2" cy="166.1" r="2.7"/>
<circle cx="180.3" cy="163.5" r="2.7"/>
<circle cx="180.6" cy="163.4" r="2.7"/>
<circle cx="180.9" cy="168.7" r="2.7"/>
<circle cx="181.1" cy="165.6" r="2.7"/>
<circle cx="181.4" cy="165.8" r="2.7"/>
<circle cx="181.4" cy="168.1" r="2.7"/>
<circle cx="181.8" cy="167.7" r="2.7"/>
<circle cx="181.9" cy="170.5" r="2.7"/>
<circle cx="182.3" cy="164.8" r="2.7"/>
<circle cx="182.5" cy="165.2" r="2.7"/>
<circle cx="182.8" cy="168.9" r="2.7"/>
</g>
<g fill="#46c554" stroke="#46c554">
<circle cx="182.9" cy="169.9" r="2.7"/>
</g>
<g fill="#fbe018" stroke="#fbe018">
<circle cx="183" cy="171.2" r="2.7"/>
<circle cx="183.3" cy="167.2" r="2.7"/>
<circle cx="183.5" cy="169.1" r="2.7"/>
<circle cx="183.8" cy="164.1" r="2.7"/>
<circle cx="184" cy="169.7" r="2.7"/>
<circle cx="184.3" cy="164.7" r="2.7"/>
<circle cx="184.6" cy="167.5" r="2.7"/>
<circle cx="184.8" cy="172.1" r="2.7"/>
<circle cx="184.9" cy="171.1" r="2.7"/>
<circle cx="185.3" cy="170.2" r="2.7"/>
<circle cx="185.5" cy="166.1" r="2.7"/>
<circle cx="185.7" cy="171.4" r="2.7"/>
<circle cx="185.9" cy="168.5" r="2.7"/>
<circle cx="186.1" cy="172.5" r="2.7"/>
<circle cx="186.3" cy="173.5" r="2.7"/>
<circle cx="186.5" cy="172.2" r="2.7"/>
<circle cx="186.7" cy="173.1" r="2.7"/>
<circle cx="187.1" cy="170.2" r="2.7"/>
<circle cx="187.3" cy="173.9" r="2.7"/>
<circle cx="187.6" cy="172.1" r="2.7"/>
<circle cx="187.6" cy="169.7" r="2.7"/>
<circle cx="187.8" cy="171.8" r="2.7"/>
<circle cx="188.2" cy="173.9" r="2.7"/>
<circle cx="188.4" cy="165.2" r="2.7"/>
<circle cx="188.7" cy="169.5" r="2.7"/>
<circle cx="188.8" cy="170.4" r="2.7"/>
<circle cx="189.2" cy="169.3" r="2.7"/>
<circle cx="189.4" cy="170.7" r="2.7"/>
<circle cx="189.5" cy="173.1" r="2.7"/>
<circle cx="189.8" cy="171.5" r="2.7"/>
<circle cx="190.1" cy="171.8" r="2.7"/>
<circle cx="190.3" cy="174.2" r="2.7"/>
<circle cx="190.5" cy="173.9" r="2.7"/>
<circle cx="190.7" cy="171.6" r="2.7"/>
<circle cx="190.8" cy="176.7" r="2.7"/>
<circle cx="191.2" cy="174.6" r="2.7"/>
<circle cx="191.4" cy="175.7" r="2.7"/>
<circle cx="191.6" cy="175.5" r="2.7"/>
</g>
<g fill="#46c554" stroke="#46c554">
<circle cx="191.8" cy="175.7" r="2.7"/>
</g>
<g fill="#fbe018" stroke="#fbe018">
<circle cx="192.1" cy="174.8" r="2.7"/>
<circle cx="192.3" cy="170.9" r="2.7"/>
<circle cx="192.4" cy="173" r="2.7"/>
<circle cx="192.7" cy="169.6" r="2.7"/>
<circle cx="192.9" cy="173.5" r="2.7"/>
<circle cx="193.2" cy="177.8" r="2.7"/>
<circle cx="193.5" cy="174.7" r="2.7"/>
<circle cx="193.7" cy="174.9" r="2.7"/>
</g>
<g fill="#46c554" stroke="#46c554">
<circle cx="193.9" cy="177.8" r="2.7"/>
</g>
<g fill="#fbe018" stroke="#fbe018">
<circle cx="194.1" cy="178.5" r="2.7"/>
<circle cx="194.5" cy="179.2" r="2.7"/>
<circle cx="194.5" cy="176.8" r="2.7"/>
<circle cx="194.8" cy="179.9" r="2.7"/>
<circle cx="195.1" cy="178.9" r="2.7"/>
<circle cx="195.2" cy="174.4" r="2.7"/>
<circle cx="195.6" cy="176.5" r="2.7"/>
<circle cx="195.9" cy="176.5" r="2.7"/>
<circle cx="195.9" cy="176.8" r="2.7"/>
<circle cx="196.1" cy="178.2" r="2.7"/>
<circle cx="196.5" cy="176.7" r="2.7"/>
<circle cx="196.6" cy="180.6" r="2.7"/>
</g>
<g fill="#46c554" stroke="#46c554">
<circle cx="197" cy="177.1" r="2.7"/>
</g>
<g fill="#fbe018" stroke="#fbe018">
<circle cx="197.1" cy="178.4" r="2.7"/>
<circle cx="197.3" cy="177.7" r="2.7"/>
<circle cx="197.6" cy="179.8" r="2.7"/>
<circle cx="197.8" cy="181" r="2.7"/>
<circle cx="198.1" cy="177.8" r="2.7"/>
<circle cx="198.3" cy="178.3" r="2.7"/>
<circle cx="198.6" cy="177.6" r="2.7"/>
<circle cx="198.7" cy="178.8" r="2.7"/>
<circle cx="199.1" cy="180.3" r="2.7"/>
<circle cx="199.3" cy="179.1" r="2.7"/>
<circle cx="199.4" cy="184.4" r="2.7"/>
<circle cx="199.7" cy="181" r="2.7"/>
</g>
<g fill="#12908c" stroke="#12908c">
<circle cx="199.9" cy="181.5" r="2.7"/>
</g>
<g fill="#fbe018" stroke="#fbe018">
<circle cx="200" cy="176.6" r="2.7"/>
<circle cx="200.3" cy="183" r="2.7"/>
<circle cx="200.6" cy="180.6" r="2.7"/>
<circle cx="200.8" cy="186.7" r="2.7"/>
<circle cx="201.1" cy="176.2" r="2.7"/>
<circle cx="201.3" cy="183" r="2.7"/>
<circle cx="201.5" cy="184.2" r="2.7"/>
<circle cx="201.7" cy="183.8" r="2.7"/>
<circle cx="201.8" cy="180.2" r="2.7"/>
<circle cx="202.1" cy="180.1" r="2.7"/>
<circle cx="202.4" cy="183.2" r="2.7"/>
<circle cx="202.6" cy="180.9" r="2.7"/>
<circle cx="202.9" cy="183.2" r="2.7"/>
</g>
<g fill="#12908c" stroke="#12908c">
<circle cx="203.1" cy="181.7" r="2.7"/>
</g>
<g fill="#fbe018" stroke="#fbe018">
<circle cx="203.2" cy="187.4" r="2.7"/>
<circle cx="203.5" cy="185.2" r="2.7"/>
<circle cx="203.7" cy="187" r="2.7"/>
<circle cx="204.1" cy="182.7" r="2.7"/>
<circle cx="204.2" cy="182.4" r="2.7"/>
<circle cx="204.5" cy="181.4" r="2.7"/>
<circle cx="204.7" cy="188.5" r="2.7"/>
<circle cx="205" cy="183.8" r="2.7"/>
<circle cx="205.1" cy="183" r="2.7"/>
<circle cx="205.3" cy="183.7" r="2.7"/>
</g>
<g fill="#46c554" stroke="#46c554">
<circle cx="205.6" cy="184.7" r="2.7"/>
</g>
<g fill="#fbe018" stroke="#fbe018">
<circle cx="205.8" cy="187" r="2.7"/>
<circle cx="206.2" cy="187.5" r="2.7"/>
<circle cx="206.2" cy="188" r="2.7"/>
<circle cx="206.5" cy="185.7" r="2.7"/>
<circle cx="206.7" cy="186.2" r="2.7"/>
</g>
<g fill="#12908c" stroke="#12908c">
<circle cx="207" cy="187.1" r="2.7"/>
</g>
<g fill="#fbe018" stroke="#fbe018">
<circle cx="207.1" cy="182.8" r="2.7"/>
<circle cx="207.4" cy="183.2" r="2.7"/>
<circle cx="207.6" cy="187.1" r="2.7"/>
<circle cx="208" cy="182.4" r="2.7"/>
<circle cx="208.1" cy="183" r="2.7"/>
<circle cx="208.5" cy="182.8" r="2.7"/>
<circle cx="208.7" cy="184.5" r="2.7"/>
<circle cx="208.9" cy="188.6" r="2.7"/>
<circle cx="209.1" cy="183.8" r="2.7"/>
<circle cx="209.3" cy="185.1" r="2.7"/>
<circle cx="209.6" cy="184.1" r="2.7"/>
<circle cx="209.7" cy="191.2" r="2.7"/>
<circle cx="210.1" cy="187.6" r="2.7"/>
<circle cx="210.1" cy="184.5" r="2.7"/>
<circle cx="210.5" cy="188.1" r="2.7"/>
<circle cx="210.6" cy="181.9" r="2.7"/>
<circle cx="211" cy="189.7" r="2.7"/>
<circle cx="211" cy="185.7" r="2.7"/>
<circle cx="211.3" cy="186.3" r="2.7"/>
<circle cx="211.7" cy="189.6" r="2.7"/>
<circle cx="211.8" cy="188.2" r="2.7"/>
<circle cx="212" cy="185" r="2.7"/>
<circle cx="212.2" cy="189.9" r="2.7"/>
<circle cx="212.5" cy="189.6" r="2.7"/>
<circle cx="212.7" cy="189.6" r="2.7"/>
<circle cx="213" cy="190.9" r="2.7"/>
<circle cx="213.2" cy="193.6" r="2.7"/>
<circle cx="213.4" cy="193.5" r="2.7"/>
<circle cx="213.6" cy="192.3" r="2.7"/>
<circle cx="213.9" cy="190.6" r="2.7"/>
<circle cx="161" cy="152.7" r="2.7"/>
<circle cx="162" cy="149.9" r="2.7"/>
<circle cx="163.2" cy="152.4" r="2.7"/>
<circle cx="165.1" cy="154.8" r="2.7"/>
<circle cx="165.6" cy="153" r="2.7"/>
<circle cx="167.3" cy="155.6" r="2.7"/>
<circle cx="169.2" cy="156.4" r="2.7"/>
<circle cx="169.8" cy="157.6" r="2.7"/>
<circle cx="171.4" cy="156.9" r="2.7"/>
</g>
<g fill="#12908c" stroke="#12908c">
<circle cx="179.8" cy="170.2" r="2.7"/>
<circle cx="190.2" cy="173.4" r="2.7"/>
</g>
<g fill="#46c554" stroke="#46c554">
<circle cx="212.2" cy="189.8" r="2.7"/>
<circle cx="213.1" cy="191.2" r="2.7"/>
</g>
<g fill="#fbe018" stroke="#fbe018">
<circle cx="213.3" cy="191.4" r="2.7"/>
</g>
<g fill="#46c554" stroke="#46c554">
<circle cx="214.2" cy="190.9" r="2.7"/>
</g>
<g fill="#fbe018" stroke="#fbe018">
<circle cx="214.8" cy="192.5" r="2.7"/>
</g>
<g fill="#12908c" stroke="#12908c">
<circle cx="215.2" cy="192.1" r="2.7"/>
</g>
<g fill="#46c554" stroke="#46c554">
<circle cx="216.1" cy="192.8" r="2.7"/>
</g>
<g fill="#fbe018" stroke="#fbe018">
<circle cx="216.8" cy="193.1" r="2.7"/>
</g>
<g fill="#12908c" stroke="#12908c">
<circle cx="217.2" cy="194.9" r="2.7"/>
<circle cx="218.1" cy="195.3" r="2.7"/>
<circle cx="218.6" cy="195.8" r="2.7"/>
</g>
<g fill="#fbe018" stroke="#fbe018">
<circle cx="219.5" cy="196.5" r="2.7"/>
</g>
<g fill="#12908c" stroke="#12908c">
<circle cx="220.1" cy="194.6" r="2.7"/>
<circle cx="220.8" cy="197.4" r="2.7"/>
</g>
<g fill="#1a5290" stroke="#1a5290">
<circle cx="222" cy="199.5" r="2.7"/>
<circle cx="222.9" cy="202.2" r="2.7"/>
<circle cx="224.9" cy="203.3" r="2.7"/>
<circle cx="226.2" cy="204.1" r="2.7"/>
</g>
<g fill="#12908c" stroke="#12908c">
<circle cx="228" cy="207.5" r="2.7"/>
</g>
<g fill="#1a5290" stroke="#1a5290">
<circle cx="230" cy="206.5" r="2.7"/>
</g>
<g fill="#12908c" stroke="#12908c">
<circle cx="231.2" cy="205.3" r="2.7"/>
</g>
<g fill="#1a5290" stroke="#1a5290">
<circle cx="233.2" cy="208.3" r="2.7"/>
<circle cx="234.2" cy="208.4" r="2.7"/>
<circle cx="234.5" cy="208.2" r="2.7"/>
<circle cx="234.9" cy="209.6" r="2.7"/>
<circle cx="236" cy="210" r="2.7"/>
<circle cx="236.4" cy="211.6" r="2.7"/>
<circle cx="237.2" cy="209.2" r="2.7"/>
<circle cx="237.6" cy="210.4" r="2.7"/>
<circle cx="238.2" cy="212.6" r="2.7"/>
<circle cx="238.7" cy="212.5" r="2.7"/>
<circle cx="239.6" cy="212.7" r="2.7"/>
<circle cx="240.3" cy="214.3" r="2.7"/>
<circle cx="240.4" cy="213.7" r="2.7"/>
<circle cx="240.9" cy="214.8" r="2.7"/>
</g>
<g fill="#12908c" stroke="#12908c">
<circle cx="245.5" cy="217.3" r="2.7"/>
</g>
<g fill="#fbe018" stroke="#fbe018">
<circle cx="175.8" cy="141" r="2.7"/>
<circle cx="176.5" cy="137.1" r="2.7"/>
<circle cx="177.8" cy="140.3" r="2.7"/>
</g>
<g fill="#12908c" stroke="#12908c">
<circle cx="179.6" cy="140.6" r="2.7"/>
<circle cx="180.8" cy="142.3" r="2.7"/>
</g>
<g fill="#fbe018" stroke="#fbe018">
<circle cx="181.4" cy="144.3" r="2.7"/>
<circle cx="183.1" cy="144.9" r="2.7"/>
<circle cx="184.5" cy="143.5" r="2.7"/>
<circle cx="184.9" cy="146.6" r="2.7"/>
</g>
<g fill="#12908c" stroke="#12908c">
<circle cx="186.7" cy="146.4" r="2.7"/>
<circle cx="187.2" cy="146" r="2.7"/>
</g>
<g fill="#fbe018" stroke="#fbe018">
<circle cx="188.7" cy="149.2" r="2.7"/>
<circle cx="190.4" cy="149.6" r="2.7"/>
<circle cx="191.5" cy="153.3" r="2.7"/>
<circle cx="191.1" cy="151.6" r="2.7"/>
<circle cx="191.4" cy="150.4" r="2.7"/>
<circle cx="191.5" cy="141.4" r="2.7"/>
<circle cx="191.7" cy="149.3" r="2.7"/>
<circle cx="192.1" cy="157.4" r="2.7"/>
<circle cx="192.2" cy="149.6" r="2.7"/>
<circle cx="192.4" cy="148.7" r="2.7"/>
<circle cx="192.7" cy="150.3" r="2.7"/>
<circle cx="193" cy="154.6" r="2.7"/>
<circle cx="193.1" cy="153.6" r="2.7"/>
<circle cx="193.4" cy="150.3" r="2.7"/>
<circle cx="193.6" cy="151.8" r="2.7"/>
<circle cx="193.8" cy="149.3" r="2.7"/>
<circle cx="194.1" cy="152" r="2.7"/>
<circle cx="194.3" cy="153.3" r="2.7"/>
<circle cx="194.5" cy="155.8" r="2.7"/>
<circle cx="194.8" cy="154.2" r="2.7"/>
<circle cx="195" cy="154.7" r="2.7"/>
<circle cx="195.2" cy="155.6" r="2.7"/>
<circle cx="195.4" cy="158.3" r="2.7"/>
<circle cx="195.7" cy="151.9" r="2.7"/>
<circle cx="195.9" cy="153.9" r="2.7"/>
</g>
<g fill="#12908c" stroke="#12908c">
<circle cx="196.2" cy="151.6" r="2.7"/>
</g>
<g fill="#fbe018" stroke="#fbe018">
<circle cx="196.3" cy="156.5" r="2.7"/>
<circle cx="196.6" cy="155.4" r="2.7"/>
<circle cx="196.8" cy="156" r="2.7"/>
<circle cx="197.1" cy="153.6" r="2.7"/>
</g>
<g fill="#12908c" stroke="#12908c">
<circle cx="197.4" cy="158.6" r="2.7"/>
</g>
<g fill="#fbe018" stroke="#fbe018">
<circle cx="197.5" cy="153.2" r="2.7"/>
</g>
<g fill="#46c554" stroke="#46c554">
<circle cx="197.8" cy="155.8" r="2.7"/>
</g>
<g fill="#fbe018" stroke="#fbe018">
<circle cx="198" cy="156.3" r="2.7"/>
<circle cx="198.1" cy="156.4" r="2.7"/>
<circle cx="198.4" cy="159.6" r="2.7"/>
<circle cx="198.6" cy="156.9" r="2.7"/>
<circle cx="198.8" cy="155.5" r="2.7"/>
<circle cx="199" cy="160.1" r="2.7"/>
<circle cx="199.4" cy="158.4" r="2.7"/>
<circle cx="199.5" cy="159.4" r="2.7"/>
<circle cx="199.8" cy="156.8" r="2.7"/>
<circle cx="199.9" cy="160.2" r="2.7"/>
<circle cx="200.3" cy="160.4" r="2.7"/>
<circle cx="200.5" cy="158.3" r="2.7"/>
<circle cx="200.8" cy="155.2" r="2.7"/>
<circle cx="201" cy="161.7" r="2.7"/>
<circle cx="201.1" cy="156.8" r="2.7"/>
<circle cx="201.4" cy="161.1" r="2.7"/>
<circle cx="201.7" cy="156.8" r="2.7"/>
</g>
<g fill="#12908c" stroke="#12908c">
<circle cx="201.8" cy="159.3" r="2.7"/>
</g>
<g fill="#fbe018" stroke="#fbe018">
<circle cx="202.1" cy="157.9" r="2.7"/>
<circle cx="202.3" cy="160.8" r="2.7"/>
<circle cx="202.5" cy="156.3" r="2.7"/>
<circle cx="202.7" cy="158.5" r="2.7"/>
<circle cx="202.9" cy="163.6" r="2.7"/>
<circle cx="203.2" cy="160.3" r="2.7"/>
<circle cx="203.4" cy="164.9" r="2.7"/>
<circle cx="203.6" cy="165.1" r="2.7"/>
<circle cx="204" cy="161.8" r="2.7"/>
<circle cx="204.3" cy="161.9" r="2.7"/>
<circle cx="204.4" cy="162.2" r="2.7"/>
<circle cx="204.5" cy="159.5" r="2.7"/>
<circle cx="204.8" cy="164" r="2.7"/>
<circle cx="205.1" cy="163.1" r="2.7"/>
<circle cx="205.4" cy="158.1" r="2.7"/>
<circle cx="205.6" cy="161" r="2.7"/>
<circle cx="205.6" cy="164.9" r="2.7"/>
<circle cx="206" cy="159.8" r="2.7"/>
<circle cx="206.3" cy="163.5" r="2.7"/>
</g>
<g fill="#12908c" stroke="#12908c">
<circle cx="206.4" cy="162.5" r="2.7"/>
</g>
<g fill="#fbe018" stroke="#fbe018">
<circle cx="206.8" cy="165.2" r="2.7"/>
<circle cx="206.9" cy="163.3" r="2.7"/>
<circle cx="207.2" cy="164.4" r="2.7"/>
<circle cx="207.4" cy="167" r="2.7"/>
<circle cx="207.5" cy="162.3" r="2.7"/>
</g>
<g fill="#46c554" stroke="#46c554">
<circle cx="207.7" cy="166.3" r="2.7"/>
</g>
<g fill="#fbe018" stroke="#fbe018">
<circle cx="208" cy="166.5" r="2.7"/>
<circle cx="208.2" cy="161.9" r="2.7"/>
<circle cx="208.5" cy="164.4" r="2.7"/>
</g>
<g fill="#46c554" stroke="#46c554">
<circle cx="208.8" cy="165.9" r="2.7"/>
</g>
<g fill="#fbe018" stroke="#fbe018">
<circle cx="208.9" cy="165.7" r="2.7"/>
<circle cx="209.3" cy="165.9" r="2.7"/>
<circle cx="209.4" cy="162.8" r="2.7"/>
<circle cx="209.6" cy="167.5" r="2.7"/>
<circle cx="209.8" cy="161" r="2.7"/>
<circle cx="210.1" cy="170.3" r="2.7"/>
<circle cx="210.3" cy="168.8" r="2.7"/>
<circle cx="210.5" cy="169.3" r="2.7"/>
<circle cx="210.8" cy="164.3" r="2.7"/>
<circle cx="211" cy="165.2" r="2.7"/>
<circle cx="211.1" cy="160.2" r="2.7"/>
<circle cx="211.5" cy="165.2" r="2.7"/>
<circle cx="211.7" cy="165.8" r="2.7"/>
<circle cx="211.8" cy="169.9" r="2.7"/>
</g>
<g fill="#46c554" stroke="#46c554">
<circle cx="212.3" cy="168.9" r="2.7"/>
</g>
<g fill="#fbe018" stroke="#fbe018">
<circle cx="212.3" cy="165" r="2.7"/>
<circle cx="212.6" cy="170" r="2.7"/>
<circle cx="212.8" cy="166.9" r="2.7"/>
<circle cx="213.1" cy="168.2" r="2.7"/>
<circle cx="213.3" cy="168.2" r="2.7"/>
<circle cx="213.6" cy="164.4" r="2.7"/>
<circle cx="213.7" cy="170.3" r="2.7"/>
<circle cx="214.1" cy="170.7" r="2.7"/>
<circle cx="214.2" cy="169.3" r="2.7"/>
<circle cx="214.4" cy="171" r="2.7"/>
<circle cx="214.7" cy="171.2" r="2.7"/>
<circle cx="214.8" cy="169.5" r="2.7"/>
<circle cx="215.2" cy="171.8" r="2.7"/>
<circle cx="215.4" cy="170.4" r="2.7"/>
<circle cx="215.5" cy="169.2" r="2.7"/>
<circle cx="215.7" cy="173.2" r="2.7"/>
<circle cx="216" cy="168.6" r="2.7"/>
<circle cx="216.3" cy="170.5" r="2.7"/>
<circle cx="216.5" cy="166" r="2.7"/>
<circle cx="216.7" cy="167.7" r="2.7"/>
<circle cx="216.9" cy="170.2" r="2.7"/>
<circle cx="217.1" cy="172.8" r="2.7"/>
<circle cx="217.3" cy="170.5" r="2.7"/>
<circle cx="217.7" cy="167.4" r="2.7"/>
<circle cx="217.9" cy="171.8" r="2.7"/>
<circle cx="218" cy="169.9" r="2.7"/>
<circle cx="218.3" cy="173.2" r="2.7"/>
<circle cx="218.4" cy="174.5" r="2.7"/>
<circle cx="218.7" cy="173.4" r="2.7"/>
<circle cx="218.9" cy="171.7" r="2.7"/>
</g>
<g fill="#12908c" stroke="#12908c">
<circle cx="219.2" cy="175" r="2.7"/>
</g>
<g fill="#fbe018" stroke="#fbe018">
<circle cx="219.3" cy="173.2" r="2.7"/>
<circle cx="219.7" cy="173.1" r="2.7"/>
<circle cx="220" cy="174.3" r="2.7"/>
<circle cx="220.1" cy="176.8" r="2.7"/>
<circle cx="220.4" cy="174.6" r="2.7"/>
<circle cx="220.5" cy="172.8" r="2.7"/>
<circle cx="220.9" cy="176.3" r="2.7"/>
<circle cx="221" cy="175.6" r="2.7"/>
<circle cx="221.2" cy="175.9" r="2.7"/>
<circle cx="221.5" cy="171.4" r="2.7"/>
<circle cx="221.6" cy="170.4" r="2.7"/>
<circle cx="222" cy="173.5" r="2.7"/>
<circle cx="222.3" cy="178.4" r="2.7"/>
<circle cx="222.4" cy="175.4" r="2.7"/>
<circle cx="222.6" cy="175" r="2.7"/>
<circle cx="222.9" cy="174.7" r="2.7"/>
<circle cx="223.1" cy="176.7" r="2.7"/>
<circle cx="223.4" cy="176.5" r="2.7"/>
<circle cx="223.6" cy="175.2" r="2.7"/>
<circle cx="223.9" cy="173.7" r="2.7"/>
<circle cx="224" cy="177.6" r="2.7"/>
<circle cx="224.3" cy="175.8" r="2.7"/>
<circle cx="224.6" cy="176.3" r="2.7"/>
<circle cx="224.8" cy="174.9" r="2.7"/>
<circle cx="224.9" cy="178.5" r="2.7"/>
<circle cx="225.1" cy="179.6" r="2.7"/>
<circle cx="225.4" cy="175.6" r="2.7"/>
<circle cx="225.6" cy="177.6" r="2.7"/>
<circle cx="225.8" cy="177.2" r="2.7"/>
</g>
<g fill="#12908c" stroke="#12908c">
<circle cx="226" cy="178.6" r="2.7"/>
</g>
<g fill="#fbe018" stroke="#fbe018">
<circle cx="226.3" cy="186.1" r="2.7"/>
<circle cx="226.5" cy="176.8" r="2.7"/>
<circle cx="226.9" cy="179.6" r="2.7"/>
<circle cx="227" cy="180.7" r="2.7"/>
<circle cx="227.2" cy="178" r="2.7"/>
<circle cx="227.4" cy="177" r="2.7"/>
<circle cx="227.6" cy="177.1" r="2.7"/>
<circle cx="228" cy="179.7" r="2.7"/>
<circle cx="228.1" cy="177" r="2.7"/>
<circle cx="228.3" cy="179.2" r="2.7"/>
</g>
<g fill="#46c554" stroke="#46c554">
<circle cx="228.7" cy="179.4" r="2.7"/>
</g>
<g fill="#12908c" stroke="#12908c">
<circle cx="228.9" cy="178.5" r="2.7"/>
</g>
<g fill="#fbe018" stroke="#fbe018">
<circle cx="229.2" cy="179.7" r="2.7"/>
<circle cx="229.3" cy="181.6" r="2.7"/>
<circle cx="229.4" cy="180.5" r="2.7"/>
<circle cx="229.8" cy="182.6" r="2.7"/>
<circle cx="229.9" cy="182.7" r="2.7"/>
<circle cx="230.3" cy="179.2" r="2.7"/>
<circle cx="230.5" cy="180.4" r="2.7"/>
<circle cx="230.8" cy="180.4" r="2.7"/>
<circle cx="230.8" cy="179.6" r="2.7"/>
<circle cx="231.1" cy="184.4" r="2.7"/>
<circle cx="231.4" cy="179.8" r="2.7"/>
<circle cx="231.6" cy="181.6" r="2.7"/>
<circle cx="231.7" cy="186.8" r="2.7"/>
<circle cx="232" cy="186.8" r="2.7"/>
<circle cx="232.3" cy="182" r="2.7"/>
<circle cx="232.6" cy="183.7" r="2.7"/>
</g>
<g fill="#46c554" stroke="#46c554">
<circle cx="232.7" cy="182.9" r="2.7"/>
</g>
<g fill="#fbe018" stroke="#fbe018">
<circle cx="232.9" cy="182.6" r="2.7"/>
</g>
<g fill="#46c554" stroke="#46c554">
<circle cx="233.3" cy="184.5" r="2.7"/>
</g>
<g fill="#fbe018" stroke="#fbe018">
<circle cx="233.4" cy="184.8" r="2.7"/>
<circle cx="233.5" cy="183.8" r="2.7"/>
<circle cx="234" cy="185.6" r="2.7"/>
<circle cx="234.2" cy="186.7" r="2.7"/>
<circle cx="234.4" cy="184.9" r="2.7"/>
<circle cx="234.5" cy="184.8" r="2.7"/>
<circle cx="234.7" cy="183.6" r="2.7"/>
</g>
<g fill="#46c554" stroke="#46c554">
<circle cx="235.1" cy="194.2" r="2.7"/>
</g>
<g fill="#fbe018" stroke="#fbe018">
<circle cx="235.3" cy="185.9" r="2.7"/>
<circle cx="235.5" cy="193.4" r="2.7"/>
<circle cx="235.8" cy="187.1" r="2.7"/>
<circle cx="235.9" cy="186.8" r="2.7"/>
<circle cx="236.2" cy="185" r="2.7"/>
<circle cx="236.4" cy="183.4" r="2.7"/>
<circle cx="236.5" cy="182.4" r="2.7"/>
<circle cx="236.8" cy="187.5" r="2.7"/>
<circle cx="237.1" cy="186" r="2.7"/>
<circle cx="237.3" cy="188.5" r="2.7"/>
</g>
<g fill="#12908c" stroke="#12908c">
<circle cx="237.5" cy="187.1" r="2.7"/>
</g>
<g fill="#fbe018" stroke="#fbe018">
<circle cx="237.7" cy="187.1" r="2.7"/>
<circle cx="238" cy="188.2" r="2.7"/>
<circle cx="238.1" cy="189.3" r="2.7"/>
<circle cx="238.5" cy="190" r="2.7"/>
<circle cx="238.8" cy="187.2" r="2.7"/>
<circle cx="238.9" cy="186.7" r="2.7"/>
<circle cx="239.2" cy="192.6" r="2.7"/>
<circle cx="239.3" cy="187.6" r="2.7"/>
<circle cx="239.6" cy="189.6" r="2.7"/>
<circle cx="239.9" cy="189.3" r="2.7"/>
<circle cx="239.9" cy="189.4" r="2.7"/>
<circle cx="240.2" cy="187.3" r="2.7"/>
<circle cx="240.4" cy="191.4" r="2.7"/>
<circle cx="240.7" cy="187.4" r="2.7"/>
<circle cx="240.9" cy="192.7" r="2.7"/>
<circle cx="241.1" cy="189.3" r="2.7"/>
<circle cx="241.4" cy="186.3" r="2.7"/>
<circle cx="241.7" cy="189.6" r="2.7"/>
<circle cx="241.8" cy="191.7" r="2.7"/>
<circle cx="242.1" cy="191.3" r="2.7"/>
<circle cx="242.3" cy="186.5" r="2.7"/>
<circle cx="242.5" cy="191.2" r="2.7"/>
<circle cx="242.8" cy="196.2" r="2.7"/>
<circle cx="243" cy="189.3" r="2.7"/>
<circle cx="243.1" cy="192.8" r="2.7"/>
<circle cx="243.6" cy="198.7" r="2.7"/>
<circle cx="243.8" cy="190.5" r="2.7"/>
<circle cx="243.9" cy="190" r="2.7"/>
<circle cx="244.1" cy="189.2" r="2.7"/>
<circle cx="244.4" cy="191.1" r="2.7"/>
<circle cx="244.5" cy="190.7" r="2.7"/>
<circle cx="244.8" cy="191.2" r="2.7"/>
<circle cx="245" cy="195.2" r="2.7"/>
<circle cx="245.3" cy="189.6" r="2.7"/>
<circle cx="245.6" cy="192.2" r="2.7"/>
<circle cx="245.7" cy="195.6" r="2.7"/>
<circle cx="246" cy="195.8" r="2.7"/>
<circle cx="246.2" cy="193.7" r="2.7"/>
<circle cx="246.5" cy="192.8" r="2.7"/>
<circle cx="246.7" cy="192.3" r="2.7"/>
<circle cx="246.8" cy="193.6" r="2.7"/>
</g>
<g fill="#12908c" stroke="#12908c">
<circle cx="200.9" cy="159.1" r="2.7"/>
<circle cx="191" cy="151.4" r="2.7"/>
<circle cx="176.2" cy="144.8" r="2.7"/>
</g>
<g fill="#fbe018" stroke="#fbe018">
<circle cx="205.4" cy="162.7" r="2.7"/>
</g>
<g fill="#12908c" stroke="#12908c">
<circle cx="205.6" cy="162.9" r="2.7"/>
</g>
<g fill="#fbe018" stroke="#fbe018">
<circle cx="245.6" cy="192.8" r="2.7"/>
<circle cx="245.6" cy="194.5" r="2.7"/>
</g>
<g fill="#46c554" stroke="#46c554">
<circle cx="246.6" cy="194.4" r="2.7"/>
</g>
<g fill="#fbe018" stroke="#fbe018">
<circle cx="247" cy="195.4" r="2.7"/>
</g>
<g fill="#12908c" stroke="#12908c">
<circle cx="247.4" cy="194.1" r="2.7"/>
<circle cx="248.4" cy="194.9" r="2.7"/>
<circle cx="249" cy="194.7" r="2.7"/>
<circle cx="249.5" cy="196.8" r="2.7"/>
<circle cx="249.6" cy="194.5" r="2.7"/>
</g>
<g fill="#fbe018" stroke="#fbe018">
<circle cx="250.2" cy="198.2" r="2.7"/>
<circle cx="251.2" cy="197" r="2.7"/>
</g>
<g fill="#46c554" stroke="#46c554">
<circle cx="251.8" cy="199.4" r="2.7"/>
</g>
<g fill="#fbe018" stroke="#fbe018">
<circle cx="252" cy="198.7" r="2.7"/>
</g>
<g fill="#12908c" stroke="#12908c">
<circle cx="252.6" cy="197.9" r="2.7"/>
</g>
<g fill="#1a5290" stroke="#1a5290">
<circle cx="254.3" cy="198.4" r="2.7"/>
<circle cx="254.8" cy="200.7" r="2.7"/>
<circle cx="255" cy="198.5" r="2.7"/>
<circle cx="255.4" cy="202.6" r="2.7"/>
</g>
<g fill="#12908c" stroke="#12908c">
<circle cx="256.1" cy="201.7" r="2.7"/>
</g>
<g fill="#1a5290" stroke="#1a5290">
<circle cx="256.4" cy="202.1" r="2.7"/>
</g>
<g fill="#12908c" stroke="#12908c">
<circle cx="256.7" cy="202.5" r="2.7"/>
</g>
<g fill="#1a5290" stroke="#1a5290">
<circle cx="257.1" cy="202.7" r="2.7"/>
<circle cx="257.9" cy="203.1" r="2.7"/>
<circle cx="258.2" cy="203" r="2.7"/>
<circle cx="258.4" cy="202.2" r="2.7"/>
</g>
<g fill="#12908c" stroke="#12908c">
<circle cx="258.8" cy="202.3" r="2.7"/>
</g>
<g fill="#1a5290" stroke="#1a5290">
<circle cx="259.4" cy="203.6" r="2.7"/>
<circle cx="259.8" cy="203.4" r="2.7"/>
</g>
<g fill="#12908c" stroke="#12908c">
<circle cx="260.2" cy="204.9" r="2.7"/>
</g>
<g fill="#1a5290" stroke="#1a5290">
<circle cx="260.7" cy="206.3" r="2.7"/>
</g>
<g fill="#12908c" stroke="#12908c">
<circle cx="261" cy="204.2" r="2.7"/>
</g>
<g fill="#1a5290" stroke="#1a5290">
<circle cx="261.5" cy="206.2" r="2.7"/>
<circle cx="262.2" cy="203.9" r="2.7"/>
<circle cx="262.4" cy="207.4" r="2.7"/>
<circle cx="262.9" cy="206.8" r="2.7"/>
</g>
<g fill="#12908c" stroke="#12908c">
<circle cx="263.4" cy="207.6" r="2.7"/>
</g>
<g fill="#1a5290" stroke="#1a5290">
<circle cx="263.6" cy="206.7" r="2.7"/>
<circle cx="264.2" cy="205.1" r="2.7"/>
<circle cx="264.6" cy="208.7" r="2.7"/>
<circle cx="265.1" cy="208.9" r="2.7"/>
</g>
<g fill="#12908c" stroke="#12908c">
<circle cx="265.6" cy="209.3" r="2.7"/>
</g>
<g fill="#1a5290" stroke="#1a5290">
<circle cx="265.8" cy="208.4" r="2.7"/>
<circle cx="266.2" cy="209.2" r="2.7"/>
<circle cx="266.7" cy="209.4" r="2.7"/>
<circle cx="270.5" cy="212.5" r="2.7"/>
</g>
<g fill="#3e0252" stroke="#3e0252">
<circle cx="275.2" cy="217.5" r="2.7"/>
</g>
<g fill="#fbe018" stroke="#fbe018">
<circle cx="275" cy="217.3" r="2.7"/>
</g>
<g fill="#12908c" stroke="#12908c">
<circle cx="207.1" cy="141.8" r="2.7"/>
<circle cx="211.6" cy="144.8" r="2.7"/>
<circle cx="213.4" cy="146.6" r="2.7"/>
<circle cx="212.5" cy="150.2" r="2.7"/>
<circle cx="209.8" cy="148.9" r="2.7"/>
</g>
<g fill="#46c554" stroke="#46c554">
<circle cx="205.4" cy="139.5" r="2.7"/>
</g>
<g fill="#3e0252" stroke="#3e0252">
<circle cx="223.2" cy="154" r="2.7"/>
</g>
<g fill="#fbe018" stroke="#fbe018">
<circle cx="216.4" cy="151.4" r="2.7"/>
</g>
<g fill="#12908c" stroke="#12908c">
<circle cx="218" cy="146.7" r="2.7"/>
</g>
<g fill="#46c554" stroke="#46c554">
<circle cx="218.5" cy="152.5" r="2.7"/>
</g>
<g fill="#fbe018" stroke="#fbe018">
<circle cx="218.7" cy="147.2" r="2.7"/>
</g>
<g fill="#12908c" stroke="#12908c">
<circle cx="219.2" cy="147.9" r="2.7"/>
<circle cx="219.5" cy="149.3" r="2.7"/>
</g>
<g fill="#fbe018" stroke="#fbe018">
<circle cx="219.6" cy="151.3" r="2.7"/>
</g>
<g fill="#46c554" stroke="#46c554">
<circle cx="220" cy="153.3" r="2.7"/>
<circle cx="220.2" cy="150.6" r="2.7"/>
<circle cx="220.6" cy="150.9" r="2.7"/>
<circle cx="221" cy="148.7" r="2.7"/>
</g>
<g fill="#fbe018" stroke="#fbe018">
<circle cx="221.4" cy="151.9" r="2.7"/>
</g>
<g fill="#46c554" stroke="#46c554">
<circle cx="221.5" cy="154.4" r="2.7"/>
</g>
<g fill="#fbe018" stroke="#fbe018">
<circle cx="221.8" cy="151.6" r="2.7"/>
<circle cx="222.1" cy="148" r="2.7"/>
</g>
<g fill="#12908c" stroke="#12908c">
<circle cx="222.5" cy="151.7" r="2.7"/>
</g>
<g fill="#fbe018" stroke="#fbe018">
<circle cx="222.8" cy="152.9" r="2.7"/>
<circle cx="223.2" cy="155.7" r="2.7"/>
<circle cx="223.5" cy="153.1" r="2.7"/>
</g>
<g fill="#46c554" stroke="#46c554">
<circle cx="223.8" cy="153.9" r="2.7"/>
<circle cx="224.2" cy="153.3" r="2.7"/>
<circle cx="224.3" cy="155.6" r="2.7"/>
<circle cx="224.6" cy="157.3" r="2.7"/>
</g>
<g fill="#fbe018" stroke="#fbe018">
<circle cx="224.9" cy="155.2" r="2.7"/>
<circle cx="225.2" cy="153" r="2.7"/>
</g>
<g fill="#46c554" stroke="#46c554">
<circle cx="225.7" cy="155" r="2.7"/>
</g>
<g fill="#fbe018" stroke="#fbe018">
<circle cx="225.9" cy="156.1" r="2.7"/>
</g>
<g fill="#46c554" stroke="#46c554">
<circle cx="226.1" cy="151.5" r="2.7"/>
</g>
<g fill="#fbe018" stroke="#fbe018">
<circle cx="226.5" cy="152.2" r="2.7"/>
<circle cx="226.8" cy="154.4" r="2.7"/>
</g>
<g fill="#46c554" stroke="#46c554">
<circle cx="227" cy="155.2" r="2.7"/>
<circle cx="227.5" cy="153.8" r="2.7"/>
</g>
<g fill="#fbe018" stroke="#fbe018">
<circle cx="227.7" cy="152.6" r="2.7"/>
</g>
<g fill="#12908c" stroke="#12908c">
<circle cx="228.1" cy="158.9" r="2.7"/>
</g>
<g fill="#fbe018" stroke="#fbe018">
<circle cx="228.5" cy="157.8" r="2.7"/>
<circle cx="228.7" cy="159.5" r="2.7"/>
</g>
<g fill="#12908c" stroke="#12908c">
<circle cx="228.9" cy="157.7" r="2.7"/>
</g>
<g fill="#46c554" stroke="#46c554">
<circle cx="229.2" cy="157.7" r="2.7"/>
</g>
<g fill="#fbe018" stroke="#fbe018">
<circle cx="229.6" cy="156.6" r="2.7"/>
<circle cx="230" cy="161.6" r="2.7"/>
<circle cx="230.2" cy="156.7" r="2.7"/>
</g>
<g fill="#46c554" stroke="#46c554">
<circle cx="230.4" cy="158" r="2.7"/>
<circle cx="230.8" cy="161.8" r="2.7"/>
<circle cx="231" cy="158" r="2.7"/>
</g>
<g fill="#fbe018" stroke="#fbe018">
<circle cx="231.5" cy="158.2" r="2.7"/>
</g>
<g fill="#12908c" stroke="#12908c">
<circle cx="231.8" cy="162.1" r="2.7"/>
</g>
<g fill="#fbe018" stroke="#fbe018">
<circle cx="232" cy="160.5" r="2.7"/>
</g>
<g fill="#12908c" stroke="#12908c">
<circle cx="232.5" cy="163.2" r="2.7"/>
</g>
<g fill="#fbe018" stroke="#fbe018">
<circle cx="232.8" cy="160.1" r="2.7"/>
</g>
<g fill="#46c554" stroke="#46c554">
<circle cx="233" cy="160.6" r="2.7"/>
</g>
<g fill="#fbe018" stroke="#fbe018">
<circle cx="233.3" cy="161.9" r="2.7"/>
</g>
<g fill="#46c554" stroke="#46c554">
<circle cx="233.7" cy="161.8" r="2.7"/>
<circle cx="233.8" cy="161.1" r="2.7"/>
</g>
<g fill="#fbe018" stroke="#fbe018">
<circle cx="234.3" cy="160.6" r="2.7"/>
<circle cx="234.5" cy="162.1" r="2.7"/>
</g>
<g fill="#46c554" stroke="#46c554">
<circle cx="234.7" cy="163.6" r="2.7"/>
<circle cx="235.2" cy="165.1" r="2.7"/>
<circle cx="235.5" cy="165" r="2.7"/>
<circle cx="235.9" cy="161.4" r="2.7"/>
</g>
<g fill="#12908c" stroke="#12908c">
<circle cx="236.1" cy="161.7" r="2.7"/>
</g>
<g fill="#46c554" stroke="#46c554">
<circle cx="236.3" cy="161.5" r="2.7"/>
</g>
<g fill="#12908c" stroke="#12908c">
<circle cx="236.8" cy="164.3" r="2.7"/>
<circle cx="236.9" cy="163.6" r="2.7"/>
</g>
<g fill="#46c554" stroke="#46c554">
<circle cx="237.2" cy="164.6" r="2.7"/>
<circle cx="237.5" cy="165.7" r="2.7"/>
</g>
<g fill="#fbe018" stroke="#fbe018">
<circle cx="237.9" cy="162.5" r="2.7"/>
</g>
<g fill="#12908c" stroke="#12908c">
<circle cx="238.2" cy="168.7" r="2.7"/>
</g>
<g fill="#fbe018" stroke="#fbe018">
<circle cx="238.6" cy="161.8" r="2.7"/>
<circle cx="238.8" cy="163.5" r="2.7"/>
<circle cx="239.3" cy="166.7" r="2.7"/>
</g>
<g fill="#46c554" stroke="#46c554">
<circle cx="239.5" cy="167.9" r="2.7"/>
<circle cx="239.8" cy="164" r="2.7"/>
</g>
<g fill="#fbe018" stroke="#fbe018">
<circle cx="240.2" cy="164.8" r="2.7"/>
</g>
<g fill="#46c554" stroke="#46c554">
<circle cx="240.4" cy="165.5" r="2.7"/>
<circle cx="240.8" cy="163" r="2.7"/>
<circle cx="241" cy="167.1" r="2.7"/>
</g>
<g fill="#fbe018" stroke="#fbe018">
<circle cx="241.4" cy="170.1" r="2.7"/>
<circle cx="241.6" cy="167.8" r="2.7"/>
</g>
<g fill="#46c554" stroke="#46c554">
<circle cx="241.9" cy="167.1" r="2.7"/>
</g>
<g fill="#12908c" stroke="#12908c">
<circle cx="242.1" cy="167.7" r="2.7"/>
<circle cx="242.6" cy="168.8" r="2.7"/>
</g>
<g fill="#46c554" stroke="#46c554">
<circle cx="242.9" cy="168.8" r="2.7"/>
</g>
<g fill="#fbe018" stroke="#fbe018">
<circle cx="243" cy="164.5" r="2.7"/>
</g>
<g fill="#46c554" stroke="#46c554">
<circle cx="243.6" cy="169.8" r="2.7"/>
</g>
<g fill="#fbe018" stroke="#fbe018">
<circle cx="243.7" cy="166.2" r="2.7"/>
</g>
<g fill="#12908c" stroke="#12908c">
<circle cx="244.2" cy="167" r="2.7"/>
</g>
<g fill="#46c554" stroke="#46c554">
<circle cx="244.4" cy="168.7" r="2.7"/>
</g>
<g fill="#fbe018" stroke="#fbe018">
<circle cx="244.8" cy="168.7" r="2.7"/>
</g>
<g fill="#46c554" stroke="#46c554">
<circle cx="244.9" cy="171.3" r="2.7"/>
</g>
<g fill="#12908c" stroke="#12908c">
<circle cx="245.2" cy="171" r="2.7"/>
</g>
<g fill="#46c554" stroke="#46c554">
<circle cx="245.7" cy="169.1" r="2.7"/>
<circle cx="245.9" cy="169.1" r="2.7"/>
</g>
<g fill="#fbe018" stroke="#fbe018">
<circle cx="246.1" cy="170.3" r="2.7"/>
</g>
<g fill="#46c554" stroke="#46c554">
<circle cx="246.4" cy="170.2" r="2.7"/>
<circle cx="246.8" cy="172.9" r="2.7"/>
<circle cx="247.1" cy="173.6" r="2.7"/>
<circle cx="247.5" cy="170.9" r="2.7"/>
</g>
<g fill="#12908c" stroke="#12908c">
<circle cx="247.9" cy="171.1" r="2.7"/>
</g>
<g fill="#46c554" stroke="#46c554">
<circle cx="248.2" cy="171.8" r="2.7"/>
</g>
<g fill="#12908c" stroke="#12908c">
<circle cx="248.4" cy="173.7" r="2.7"/>
</g>
<g fill="#fbe018" stroke="#fbe018">
<circle cx="248.7" cy="172.7" r="2.7"/>
<circle cx="248.9" cy="174.5" r="2.7"/>
<circle cx="249.3" cy="175.1" r="2.7"/>
</g>
<g fill="#12908c" stroke="#12908c">
<circle cx="249.8" cy="176" r="2.7"/>
</g>
<g fill="#fbe018" stroke="#fbe018">
<circle cx="249.8" cy="173.7" r="2.7"/>
</g>
<g fill="#46c554" stroke="#46c554">
<circle cx="250.2" cy="175.3" r="2.7"/>
</g>
<g fill="#fbe018" stroke="#fbe018">
<circle cx="250.5" cy="172.8" r="2.7"/>
<circle cx="250.8" cy="174.3" r="2.7"/>
<circle cx="251.2" cy="177.2" r="2.7"/>
</g>
<g fill="#46c554" stroke="#46c554">
<circle cx="251.6" cy="175.8" r="2.7"/>
<circle cx="251.9" cy="173.9" r="2.7"/>
<circle cx="252" cy="176.9" r="2.7"/>
</g>
<g fill="#fbe018" stroke="#fbe018">
<circle cx="252.5" cy="177.9" r="2.7"/>
</g>
<g fill="#12908c" stroke="#12908c">
<circle cx="252.7" cy="177.6" r="2.7"/>
</g>
<g fill="#46c554" stroke="#46c554">
<circle cx="253.2" cy="176.3" r="2.7"/>
</g>
<g fill="#12908c" stroke="#12908c">
<circle cx="253.3" cy="174.2" r="2.7"/>
</g>
<g fill="#46c554" stroke="#46c554">
<circle cx="253.6" cy="178.1" r="2.7"/>
<circle cx="253.9" cy="178.3" r="2.7"/>
</g>
<g fill="#12908c" stroke="#12908c">
<circle cx="254.4" cy="182.2" r="2.7"/>
</g>
<g fill="#46c554" stroke="#46c554">
<circle cx="254.6" cy="173.6" r="2.7"/>
</g>
<g fill="#12908c" stroke="#12908c">
<circle cx="254.8" cy="176.9" r="2.7"/>
</g>
<g fill="#46c554" stroke="#46c554">
<circle cx="255.2" cy="177.7" r="2.7"/>
<circle cx="255.4" cy="177.4" r="2.7"/>
</g>
<g fill="#fbe018" stroke="#fbe018">
<circle cx="255.9" cy="177.9" r="2.7"/>
</g>
<g fill="#12908c" stroke="#12908c">
<circle cx="256.1" cy="178.3" r="2.7"/>
</g>
<g fill="#46c554" stroke="#46c554">
<circle cx="256.4" cy="177.9" r="2.7"/>
</g>
<g fill="#fbe018" stroke="#fbe018">
<circle cx="256.7" cy="179.5" r="2.7"/>
</g>
<g fill="#46c554" stroke="#46c554">
<circle cx="257.1" cy="179.5" r="2.7"/>
<circle cx="257.4" cy="179.5" r="2.7"/>
<circle cx="257.6" cy="178.7" r="2.7"/>
</g>
<g fill="#fbe018" stroke="#fbe018">
<circle cx="258.1" cy="179.6" r="2.7"/>
</g>
<g fill="#46c554" stroke="#46c554">
<circle cx="258.4" cy="182" r="2.7"/>
</g>
<g fill="#fbe018" stroke="#fbe018">
<circle cx="258.7" cy="181.6" r="2.7"/>
</g>
<g fill="#46c554" stroke="#46c554">
<circle cx="258.8" cy="176.5" r="2.7"/>
<circle cx="259.1" cy="182.1" r="2.7"/>
<circle cx="259.6" cy="183.9" r="2.7"/>
</g>
<g fill="#12908c" stroke="#12908c">
<circle cx="259.7" cy="183.3" r="2.7"/>
</g>
<g fill="#46c554" stroke="#46c554">
<circle cx="260.1" cy="182.2" r="2.7"/>
</g>
<g fill="#fbe018" stroke="#fbe018">
<circle cx="260.6" cy="184" r="2.7"/>
</g>
<g fill="#46c554" stroke="#46c554">
<circle cx="260.8" cy="183.9" r="2.7"/>
<circle cx="261" cy="181.6" r="2.7"/>
</g>
<g fill="#fbe018" stroke="#fbe018">
<circle cx="261.4" cy="182.7" r="2.7"/>
</g>
<g fill="#46c554" stroke="#46c554">
<circle cx="261.6" cy="181.8" r="2.7"/>
<circle cx="262" cy="184.6" r="2.7"/>
<circle cx="262.3" cy="182.2" r="2.7"/>
<circle cx="262.6" cy="184.9" r="2.7"/>
</g>
<g fill="#fbe018" stroke="#fbe018">
<circle cx="263" cy="184.9" r="2.7"/>
</g>
<g fill="#46c554" stroke="#46c554">
<circle cx="263.1" cy="183.6" r="2.7"/>
</g>
<g fill="#fbe018" stroke="#fbe018">
<circle cx="263.5" cy="187.1" r="2.7"/>
</g>
<g fill="#12908c" stroke="#12908c">
<circle cx="263.8" cy="184" r="2.7"/>
</g>
<g fill="#1a5290" stroke="#1a5290">
<circle cx="262.1" cy="182.3" r="2.7"/>
</g>
<g fill="#12908c" stroke="#12908c">
<circle cx="262.8" cy="181.4" r="2.7"/>
<circle cx="262.9" cy="185.5" r="2.7"/>
<circle cx="263.4" cy="185.2" r="2.7"/>
</g>
<g fill="#46c554" stroke="#46c554">
<circle cx="263.9" cy="183.9" r="2.7"/>
</g>
<g fill="#12908c" stroke="#12908c">
<circle cx="264.2" cy="185.3" r="2.7"/>
<circle cx="264.5" cy="185.6" r="2.7"/>
<circle cx="265.3" cy="186.4" r="2.7"/>
<circle cx="265.6" cy="185.7" r="2.7"/>
<circle cx="265.9" cy="187.8" r="2.7"/>
</g>
<g fill="#46c554" stroke="#46c554">
<circle cx="266.3" cy="183.7" r="2.7"/>
</g>
<g fill="#12908c" stroke="#12908c">
<circle cx="266.8" cy="185.9" r="2.7"/>
</g>
<g fill="#46c554" stroke="#46c554">
<circle cx="267.3" cy="188" r="2.7"/>
</g>
<g fill="#12908c" stroke="#12908c">
<circle cx="267.8" cy="189" r="2.7"/>
<circle cx="268" cy="187.2" r="2.7"/>
<circle cx="268.6" cy="188.5" r="2.7"/>
</g>
<g fill="#46c554" stroke="#46c554">
<circle cx="269" cy="189.5" r="2.7"/>
<circle cx="269.2" cy="187.7" r="2.7"/>
</g>
<g fill="#1a5290" stroke="#1a5290">
<circle cx="269.9" cy="189.3" r="2.7"/>
</g>
<g fill="#12908c" stroke="#12908c">
<circle cx="270.3" cy="190.5" r="2.7"/>
</g>
<g fill="#1a5290" stroke="#1a5290">
<circle cx="270.5" cy="190.4" r="2.7"/>
</g>
<g fill="#46c554" stroke="#46c554">
<circle cx="271" cy="190.6" r="2.7"/>
</g>
<g fill="#12908c" stroke="#12908c">
<circle cx="271.2" cy="190.7" r="2.7"/>
</g>
<g fill="#1a5290" stroke="#1a5290">
<circle cx="271.6" cy="192.3" r="2.7"/>
<circle cx="270.1" cy="188.6" r="2.7"/>
<circle cx="270.4" cy="190.7" r="2.7"/>
<circle cx="270.8" cy="190.7" r="2.7"/>
<circle cx="271.2" cy="188.5" r="2.7"/>
<circle cx="271.5" cy="191.4" r="2.7"/>
</g>
<g fill="#12908c" stroke="#12908c">
<circle cx="271.9" cy="190.8" r="2.7"/>
</g>
<g fill="#1a5290" stroke="#1a5290">
<circle cx="272.4" cy="190.2" r="2.7"/>
<circle cx="272.5" cy="190.2" r="2.7"/>
<circle cx="273" cy="192.7" r="2.7"/>
</g>
<g fill="#12908c" stroke="#12908c">
<circle cx="273.2" cy="189.1" r="2.7"/>
<circle cx="273.6" cy="191.9" r="2.7"/>
</g>
<g fill="#1a5290" stroke="#1a5290">
<circle cx="273.9" cy="193.2" r="2.7"/>
<circle cx="274.3" cy="191.3" r="2.7"/>
<circle cx="274.5" cy="193.2" r="2.7"/>
<circle cx="274.9" cy="191.7" r="2.7"/>
</g>
<g fill="#12908c" stroke="#12908c">
<circle cx="275.2" cy="192" r="2.7"/>
</g>
<g fill="#1a5290" stroke="#1a5290">
<circle cx="275.5" cy="192.9" r="2.7"/>
<circle cx="275.9" cy="194" r="2.7"/>
</g>
<g fill="#12908c" stroke="#12908c">
<circle cx="276.3" cy="195.5" r="2.7"/>
<circle cx="276.7" cy="195.2" r="2.7"/>
</g>
<g fill="#1a5290" stroke="#1a5290">
<circle cx="276.9" cy="193.5" r="2.7"/>
<circle cx="277.4" cy="195.9" r="2.7"/>
<circle cx="277.6" cy="196" r="2.7"/>
</g>
<g fill="#12908c" stroke="#12908c">
<circle cx="277.9" cy="195.8" r="2.7"/>
</g>
<g fill="#1a5290" stroke="#1a5290">
<circle cx="278.4" cy="196.1" r="2.7"/>
<circle cx="278.8" cy="193.5" r="2.7"/>
<circle cx="279" cy="196.7" r="2.7"/>
<circle cx="279.5" cy="197.9" r="2.7"/>
<circle cx="279.8" cy="196" r="2.7"/>
</g>
<g fill="#12908c" stroke="#12908c">
<circle cx="280" cy="197.4" r="2.7"/>
<circle cx="280.5" cy="194.3" r="2.7"/>
<circle cx="280.9" cy="198.1" r="2.7"/>
</g>
<g fill="#1a5290" stroke="#1a5290">
<circle cx="281.1" cy="196.2" r="2.7"/>
</g>
<g fill="#12908c" stroke="#12908c">
<circle cx="281.6" cy="199.1" r="2.7"/>
<circle cx="281.8" cy="199" r="2.7"/>
</g>
<g fill="#1a5290" stroke="#1a5290">
<circle cx="282.2" cy="198.5" r="2.7"/>
<circle cx="282.4" cy="199.9" r="2.7"/>
<circle cx="282.8" cy="198" r="2.7"/>
<circle cx="283.3" cy="196.6" r="2.7"/>
</g>
<g fill="#12908c" stroke="#12908c">
<circle cx="283.7" cy="199.9" r="2.7"/>
<circle cx="283.7" cy="199.8" r="2.7"/>
<circle cx="284.4" cy="200.8" r="2.7"/>
</g>
<g fill="#1a5290" stroke="#1a5290">
<circle cx="284.7" cy="199.5" r="2.7"/>
<circle cx="285" cy="202.1" r="2.7"/>
</g>
<g fill="#12908c" stroke="#12908c">
<circle cx="285.2" cy="201.3" r="2.7"/>
<circle cx="285.5" cy="201.5" r="2.7"/>
</g>
<g fill="#1a5290" stroke="#1a5290">
<circle cx="285.8" cy="201.1" r="2.7"/>
</g>
<g fill="#12908c" stroke="#12908c">
<circle cx="286.1" cy="202" r="2.7"/>
</g>
<g fill="#1a5290" stroke="#1a5290">
<circle cx="286.6" cy="202.1" r="2.7"/>
</g>
<g fill="#12908c" stroke="#12908c">
<circle cx="287" cy="204.8" r="2.7"/>
<circle cx="287.2" cy="203.4" r="2.7"/>
<circle cx="287.6" cy="205.2" r="2.7"/>
</g>
<g fill="#1a5290" stroke="#1a5290">
<circle cx="288.1" cy="204.2" r="2.7"/>
<circle cx="288.2" cy="206" r="2.7"/>
<circle cx="288.8" cy="206.1" r="2.7"/>
<circle cx="288.9" cy="205.1" r="2.7"/>
<circle cx="289.3" cy="204.7" r="2.7"/>
<circle cx="289.6" cy="204.7" r="2.7"/>
<circle cx="290.1" cy="204.5" r="2.7"/>
<circle cx="290.4" cy="205.3" r="2.7"/>
</g>
<g fill="#12908c" stroke="#12908c">
<circle cx="290.8" cy="205.5" r="2.7"/>
<circle cx="290.9" cy="204.8" r="2.7"/>
<circle cx="291.5" cy="209.9" r="2.7"/>
</g>
<g fill="#1a5290" stroke="#1a5290">
<circle cx="291.6" cy="206.2" r="2.7"/>
<circle cx="292.2" cy="205.8" r="2.7"/>
</g>
<g fill="#12908c" stroke="#12908c">
<circle cx="292.6" cy="207.5" r="2.7"/>
</g>
<g fill="#1a5290" stroke="#1a5290">
<circle cx="292.9" cy="205.4" r="2.7"/>
</g>
<g fill="#12908c" stroke="#12908c">
<circle cx="293.1" cy="206.9" r="2.7"/>
<circle cx="293.6" cy="206.1" r="2.7"/>
<circle cx="293.9" cy="207.5" r="2.7"/>
</g>
<g fill="#1a5290" stroke="#1a5290">
<circle cx="296.6" cy="215.4" r="2.7"/>
</g>
<g fill="#46c554" stroke="#46c554">
<circle cx="223.8" cy="130.8" r="2.7"/>
<circle cx="223.9" cy="131.2" r="2.7"/>
<circle cx="224.6" cy="131.8" r="2.7"/>
<circle cx="226.2" cy="130.9" r="2.7"/>
<circle cx="226.8" cy="135" r="2.7"/>
<circle cx="227.4" cy="133.6" r="2.7"/>
<circle cx="227.9" cy="135.1" r="2.7"/>
</g>
<g fill="#12908c" stroke="#12908c">
<circle cx="228.8" cy="135" r="2.7"/>
</g>
<g fill="#46c554" stroke="#46c554">
<circle cx="229.6" cy="134.7" r="2.7"/>
<circle cx="230.4" cy="137.2" r="2.7"/>
<circle cx="231.8" cy="138" r="2.7"/>
<circle cx="232.1" cy="137" r="2.7"/>
<circle cx="233.2" cy="139.6" r="2.7"/>
</g>
<g fill="#12908c" stroke="#12908c">
<circle cx="233.6" cy="138.9" r="2.7"/>
</g>
<g fill="#46c554" stroke="#46c554">
<circle cx="235.1" cy="139.8" r="2.7"/>
<circle cx="235.8" cy="140.2" r="2.7"/>
</g>
<g fill="#12908c" stroke="#12908c">
<circle cx="236.4" cy="140.6" r="2.7"/>
<circle cx="237.1" cy="144.1" r="2.7"/>
<circle cx="238.2" cy="141" r="2.7"/>
</g>
<g fill="#46c554" stroke="#46c554">
<circle cx="238.9" cy="141.9" r="2.7"/>
</g>
<g fill="#12908c" stroke="#12908c">
<circle cx="239.3" cy="143.6" r="2.7"/>
<circle cx="240.5" cy="144.4" r="2.7"/>
<circle cx="240.9" cy="144.3" r="2.7"/>
</g>
<g fill="#46c554" stroke="#46c554">
<circle cx="241.2" cy="142.6" r="2.7"/>
</g>
<g fill="#12908c" stroke="#12908c">
<circle cx="241.7" cy="144.3" r="2.7"/>
<circle cx="242.7" cy="143.8" r="2.7"/>
</g>
<g fill="#46c554" stroke="#46c554">
<circle cx="242.9" cy="146.2" r="2.7"/>
<circle cx="243.7" cy="145.6" r="2.7"/>
<circle cx="244.3" cy="147" r="2.7"/>
</g>
<g fill="#12908c" stroke="#12908c">
<circle cx="245.1" cy="147.1" r="2.7"/>
<circle cx="245.3" cy="147" r="2.7"/>
<circle cx="246.1" cy="146.1" r="2.7"/>
<circle cx="246.7" cy="148.4" r="2.7"/>
</g>
<g fill="#1a5290" stroke="#1a5290">
<circle cx="247.1" cy="150.1" r="2.7"/>
</g>
<g fill="#46c554" stroke="#46c554">
<circle cx="247.9" cy="148.3" r="2.7"/>
</g>
<g fill="#1a5290" stroke="#1a5290">
<circle cx="248.3" cy="147" r="2.7"/>
</g>
<g fill="#12908c" stroke="#12908c">
<circle cx="248.9" cy="151.3" r="2.7"/>
</g>
<g fill="#1a5290" stroke="#1a5290">
<circle cx="249.1" cy="150" r="2.7"/>
<circle cx="250" cy="151.6" r="2.7"/>
</g>
<g fill="#46c554" stroke="#46c554">
<circle cx="250.9" cy="152.5" r="2.7"/>
</g>
<g fill="#1a5290" stroke="#1a5290">
<circle cx="251.3" cy="152.9" r="2.7"/>
</g>
<g fill="#12908c" stroke="#12908c">
<circle cx="251.7" cy="152.6" r="2.7"/>
<circle cx="252.4" cy="153.4" r="2.7"/>
</g>
<g fill="#46c554" stroke="#46c554">
<circle cx="252.9" cy="152.5" r="2.7"/>
</g>
<g fill="#12908c" stroke="#12908c">
<circle cx="253.7" cy="153.7" r="2.7"/>
<circle cx="254.5" cy="156.3" r="2.7"/>
<circle cx="255.1" cy="155.1" r="2.7"/>
</g>
<g fill="#46c554" stroke="#46c554">
<circle cx="255.4" cy="154.7" r="2.7"/>
<circle cx="256.4" cy="157.1" r="2.7"/>
<circle cx="257" cy="157.2" r="2.7"/>
</g>
<g fill="#12908c" stroke="#12908c">
<circle cx="257.7" cy="156.3" r="2.7"/>
</g>
<g fill="#46c554" stroke="#46c554">
<circle cx="258.4" cy="158.5" r="2.7"/>
<circle cx="258.5" cy="158.9" r="2.7"/>
<circle cx="259.2" cy="157" r="2.7"/>
<circle cx="260" cy="161.1" r="2.7"/>
<circle cx="260.9" cy="157.4" r="2.7"/>
</g>
<g fill="#12908c" stroke="#12908c">
<circle cx="261.6" cy="158.8" r="2.7"/>
</g>
<g fill="#46c554" stroke="#46c554">
<circle cx="261.7" cy="159.3" r="2.7"/>
<circle cx="262.4" cy="159.3" r="2.7"/>
</g>
<g fill="#12908c" stroke="#12908c">
<circle cx="263" cy="160.4" r="2.7"/>
</g>
<g fill="#46c554" stroke="#46c554">
<circle cx="264.1" cy="161.6" r="2.7"/>
<circle cx="264.8" cy="163.2" r="2.7"/>
<circle cx="265.1" cy="161.6" r="2.7"/>
<circle cx="265.8" cy="164.6" r="2.7"/>
</g>
<g fill="#12908c" stroke="#12908c">
<circle cx="266.7" cy="164.3" r="2.7"/>
</g>
<g fill="#46c554" stroke="#46c554">
<circle cx="267" cy="165.1" r="2.7"/>
</g>
<g fill="#12908c" stroke="#12908c">
<circle cx="267.5" cy="167" r="2.7"/>
</g>
<g fill="#46c554" stroke="#46c554">
<circle cx="268.1" cy="165.4" r="2.7"/>
<circle cx="269.2" cy="163.3" r="2.7"/>
<circle cx="269.5" cy="169" r="2.7"/>
</g>
<g fill="#12908c" stroke="#12908c">
<circle cx="268.3" cy="164.5" r="2.7"/>
</g>
<g fill="#46c554" stroke="#46c554">
<circle cx="268.6" cy="165.2" r="2.7"/>
</g>
<g fill="#12908c" stroke="#12908c">
<circle cx="268.8" cy="167.7" r="2.7"/>
</g>
<g fill="#46c554" stroke="#46c554">
<circle cx="269" cy="166.5" r="2.7"/>
<circle cx="269.4" cy="166.7" r="2.7"/>
<circle cx="269.6" cy="165.9" r="2.7"/>
<circle cx="270.2" cy="168.2" r="2.7"/>
<circle cx="270.2" cy="167.5" r="2.7"/>
<circle cx="270.5" cy="169" r="2.7"/>
</g>
<g fill="#12908c" stroke="#12908c">
<circle cx="270.9" cy="165.8" r="2.7"/>
</g>
<g fill="#46c554" stroke="#46c554">
<circle cx="271.4" cy="167.3" r="2.7"/>
<circle cx="271.6" cy="169" r="2.7"/>
<circle cx="271.9" cy="166.3" r="2.7"/>
</g>
<g fill="#12908c" stroke="#12908c">
<circle cx="272.1" cy="167.5" r="2.7"/>
</g>
<g fill="#46c554" stroke="#46c554">
<circle cx="272.5" cy="169.7" r="2.7"/>
<circle cx="272.7" cy="170.2" r="2.7"/>
<circle cx="273.2" cy="168.9" r="2.7"/>
</g>
<g fill="#fbe018" stroke="#fbe018">
<circle cx="273.5" cy="168.4" r="2.7"/>
<circle cx="273.9" cy="170.7" r="2.7"/>
</g>
<g fill="#46c554" stroke="#46c554">
<circle cx="274.2" cy="170.1" r="2.7"/>
</g>
<g fill="#fbe018" stroke="#fbe018">
<circle cx="274.3" cy="168.9" r="2.7"/>
</g>
<g fill="#46c554" stroke="#46c554">
<circle cx="274.7" cy="172.6" r="2.7"/>
</g>
<g fill="#12908c" stroke="#12908c">
<circle cx="274.9" cy="169.2" r="2.7"/>
</g>
<g fill="#46c554" stroke="#46c554">
<circle cx="275.2" cy="170" r="2.7"/>
</g>
<g fill="#fbe018" stroke="#fbe018">
<circle cx="275.6" cy="170.8" r="2.7"/>
<circle cx="276.1" cy="171.1" r="2.7"/>
</g>
<g fill="#46c554" stroke="#46c554">
<circle cx="276.4" cy="172.1" r="2.7"/>
</g>
<g fill="#fbe018" stroke="#fbe018">
<circle cx="276.6" cy="173.1" r="2.7"/>
</g>
<g fill="#46c554" stroke="#46c554">
<circle cx="277.1" cy="170.1" r="2.7"/>
<circle cx="277.3" cy="173.6" r="2.7"/>
</g>
<g fill="#12908c" stroke="#12908c">
<circle cx="277.5" cy="175.3" r="2.7"/>
<circle cx="277.8" cy="172.8" r="2.7"/>
</g>
<g fill="#fbe018" stroke="#fbe018">
<circle cx="278.2" cy="175.4" r="2.7"/>
</g>
<g fill="#46c554" stroke="#46c554">
<circle cx="278.6" cy="173.4" r="2.7"/>
</g>
<g fill="#12908c" stroke="#12908c">
<circle cx="278.8" cy="175.8" r="2.7"/>
</g>
<g fill="#fbe018" stroke="#fbe018">
<circle cx="279.1" cy="174.7" r="2.7"/>
</g>
<g fill="#46c554" stroke="#46c554">
<circle cx="279.5" cy="172.4" r="2.7"/>
</g>
<g fill="#12908c" stroke="#12908c">
<circle cx="279.6" cy="174.2" r="2.7"/>
<circle cx="279.9" cy="173.6" r="2.7"/>
<circle cx="280.4" cy="172.8" r="2.7"/>
</g>
<g fill="#46c554" stroke="#46c554">
<circle cx="280.5" cy="172.8" r="2.7"/>
<circle cx="281" cy="176.4" r="2.7"/>
</g>
<g fill="#fbe018" stroke="#fbe018">
<circle cx="281.2" cy="176.4" r="2.7"/>
</g>
<g fill="#46c554" stroke="#46c554">
<circle cx="281.5" cy="172.7" r="2.7"/>
<circle cx="281.8" cy="174.5" r="2.7"/>
</g>
<g fill="#12908c" stroke="#12908c">
<circle cx="282.2" cy="177.4" r="2.7"/>
<circle cx="282.4" cy="174.5" r="2.7"/>
</g>
<g fill="#46c554" stroke="#46c554">
<circle cx="282.8" cy="176.4" r="2.7"/>
<circle cx="283.2" cy="177.5" r="2.7"/>
<circle cx="283.6" cy="179" r="2.7"/>
</g>
<g fill="#12908c" stroke="#12908c">
<circle cx="283.9" cy="177.1" r="2.7"/>
</g>
<g fill="#46c554" stroke="#46c554">
<circle cx="284.1" cy="175.7" r="2.7"/>
<circle cx="284.3" cy="179.1" r="2.7"/>
<circle cx="284.7" cy="177.4" r="2.7"/>
<circle cx="285.1" cy="177.4" r="2.7"/>
<circle cx="285.2" cy="177.5" r="2.7"/>
<circle cx="285.6" cy="180.3" r="2.7"/>
<circle cx="286" cy="177.8" r="2.7"/>
</g>
<g fill="#12908c" stroke="#12908c">
<circle cx="286.3" cy="178" r="2.7"/>
</g>
<g fill="#46c554" stroke="#46c554">
<circle cx="286.7" cy="178.7" r="2.7"/>
</g>
<g fill="#fbe018" stroke="#fbe018">
<circle cx="286.9" cy="180" r="2.7"/>
</g>
<g fill="#46c554" stroke="#46c554">
<circle cx="287.2" cy="180.8" r="2.7"/>
</g>
<g fill="#12908c" stroke="#12908c">
<circle cx="287.4" cy="181.6" r="2.7"/>
</g>
<g fill="#46c554" stroke="#46c554">
<circle cx="287.7" cy="180" r="2.7"/>
<circle cx="288.3" cy="180" r="2.7"/>
</g>
<g fill="#12908c" stroke="#12908c">
<circle cx="288.5" cy="180.5" r="2.7"/>
<circle cx="288.9" cy="182.4" r="2.7"/>
</g>
<g fill="#46c554" stroke="#46c554">
<circle cx="289.2" cy="182.9" r="2.7"/>
<circle cx="289.4" cy="180.7" r="2.7"/>
<circle cx="289.7" cy="181" r="2.7"/>
<circle cx="290" cy="181.2" r="2.7"/>
<circle cx="290.5" cy="182.4" r="2.7"/>
</g>
<g fill="#12908c" stroke="#12908c">
<circle cx="290.7" cy="183.1" r="2.7"/>
</g>
<g fill="#46c554" stroke="#46c554">
<circle cx="291" cy="183.3" r="2.7"/>
</g>
<g fill="#12908c" stroke="#12908c">
<circle cx="291.4" cy="183.3" r="2.7"/>
</g>
<g fill="#46c554" stroke="#46c554">
<circle cx="291.6" cy="181.8" r="2.7"/>
</g>
<g fill="#fbe018" stroke="#fbe018">
<circle cx="291.8" cy="183.3" r="2.7"/>
</g>
<g fill="#12908c" stroke="#12908c">
<circle cx="292.3" cy="182.8" r="2.7"/>
</g>
<g fill="#46c554" stroke="#46c554">
<circle cx="292.5" cy="184.9" r="2.7"/>
<circle cx="292.7" cy="184" r="2.7"/>
</g>
<g fill="#fbe018" stroke="#fbe018">
<circle cx="293" cy="188.1" r="2.7"/>
</g>
<g fill="#46c554" stroke="#46c554">
<circle cx="293.3" cy="185" r="2.7"/>
</g>
<g fill="#12908c" stroke="#12908c">
<circle cx="293.9" cy="184.9" r="2.7"/>
<circle cx="294.1" cy="187.7" r="2.7"/>
<circle cx="294.3" cy="184.9" r="2.7"/>
<circle cx="294.8" cy="186.4" r="2.7"/>
</g>
<g fill="#46c554" stroke="#46c554">
<circle cx="295.1" cy="184.2" r="2.7"/>
<circle cx="295.3" cy="185.3" r="2.7"/>
</g>
<g fill="#12908c" stroke="#12908c">
<circle cx="295.6" cy="185.9" r="2.7"/>
</g>
<g fill="#46c554" stroke="#46c554">
<circle cx="296" cy="186.4" r="2.7"/>
<circle cx="296.2" cy="186" r="2.7"/>
</g>
<g fill="#fbe018" stroke="#fbe018">
<circle cx="296.6" cy="187.1" r="2.7"/>
<circle cx="297" cy="188.3" r="2.7"/>
</g>
<g fill="#46c554" stroke="#46c554">
<circle cx="297.2" cy="187.1" r="2.7"/>
<circle cx="297.5" cy="185.3" r="2.7"/>
<circle cx="297.7" cy="187.1" r="2.7"/>
</g>
<g fill="#12908c" stroke="#12908c">
<circle cx="296.3" cy="189.7" r="2.7"/>
</g>
<g fill="#46c554" stroke="#46c554">
<circle cx="297" cy="186.1" r="2.7"/>
</g>
<g fill="#1a5290" stroke="#1a5290">
<circle cx="297.1" cy="188.2" r="2.7"/>
</g>
<g fill="#12908c" stroke="#12908c">
<circle cx="297.9" cy="188.4" r="2.7"/>
</g>
<g fill="#1a5290" stroke="#1a5290">
<circle cx="298.5" cy="188.5" r="2.7"/>
</g>
<g fill="#46c554" stroke="#46c554">
<circle cx="298.9" cy="188.4" r="2.7"/>
<circle cx="299.7" cy="190.2" r="2.7"/>
</g>
<g fill="#12908c" stroke="#12908c">
<circle cx="299.9" cy="191.2" r="2.7"/>
<circle cx="300.6" cy="190" r="2.7"/>
</g>
<g fill="#1a5290" stroke="#1a5290">
<circle cx="300.9" cy="191.8" r="2.7"/>
</g>
<g fill="#46c554" stroke="#46c554">
<circle cx="301.8" cy="189.5" r="2.7"/>
</g>
<g fill="#1a5290" stroke="#1a5290">
<circle cx="302" cy="194.9" r="2.7"/>
</g>
<g fill="#12908c" stroke="#12908c">
<circle cx="302.5" cy="192.2" r="2.7"/>
</g>
<g fill="#1a5290" stroke="#1a5290">
<circle cx="303" cy="192.8" r="2.7"/>
</g>
<g fill="#12908c" stroke="#12908c">
<circle cx="303.9" cy="192.5" r="2.7"/>
</g>
<g fill="#46c554" stroke="#46c554">
<circle cx="304.3" cy="194.5" r="2.7"/>
</g>
<g fill="#12908c" stroke="#12908c">
<circle cx="305" cy="194" r="2.7"/>
</g>
<g fill="#1a5290" stroke="#1a5290">
<circle cx="305.2" cy="193.5" r="2.7"/>
</g>
<g fill="#46c554" stroke="#46c554">
<circle cx="305.8" cy="192.6" r="2.7"/>
<circle cx="306.3" cy="197.1" r="2.7"/>
<circle cx="306.9" cy="195.5" r="2.7"/>
</g>
<g fill="#1a5290" stroke="#1a5290">
<circle cx="307.4" cy="194.7" r="2.7"/>
<circle cx="308.2" cy="195.2" r="2.7"/>
<circle cx="308.6" cy="198.3" r="2.7"/>
</g>
<g fill="#46c554" stroke="#46c554">
<circle cx="309.3" cy="195.8" r="2.7"/>
</g>
<g fill="#12908c" stroke="#12908c">
<circle cx="309.7" cy="198.8" r="2.7"/>
</g>
<g fill="#46c554" stroke="#46c554">
<circle cx="310.2" cy="197.9" r="2.7"/>
</g>
<g fill="#12908c" stroke="#12908c">
<circle cx="310.5" cy="196.9" r="2.7"/>
</g>
<g fill="#1a5290" stroke="#1a5290">
<circle cx="310.1" cy="197.9" r="2.7"/>
<circle cx="310.7" cy="197.6" r="2.7"/>
<circle cx="310.9" cy="199.2" r="2.7"/>
<circle cx="311" cy="199.8" r="2.7"/>
<circle cx="311.6" cy="196.9" r="2.7"/>
<circle cx="311.8" cy="199" r="2.7"/>
<circle cx="312.1" cy="197.8" r="2.7"/>
<circle cx="312.5" cy="199.4" r="2.7"/>
<circle cx="312.9" cy="200.8" r="2.7"/>
</g>
<g fill="#12908c" stroke="#12908c">
<circle cx="313.4" cy="199.2" r="2.7"/>
</g>
<g fill="#1a5290" stroke="#1a5290">
<circle cx="313.7" cy="200.2" r="2.7"/>
<circle cx="313.8" cy="200.5" r="2.7"/>
</g>
<g fill="#12908c" stroke="#12908c">
<circle cx="314.2" cy="201.6" r="2.7"/>
</g>
<g fill="#1a5290" stroke="#1a5290">
<circle cx="314.4" cy="200.7" r="2.7"/>
<circle cx="314.9" cy="200" r="2.7"/>
</g>
<g fill="#12908c" stroke="#12908c">
<circle cx="315.3" cy="202.6" r="2.7"/>
</g>
<g fill="#1a5290" stroke="#1a5290">
<circle cx="315.6" cy="201.5" r="2.7"/>
<circle cx="315.9" cy="201" r="2.7"/>
<circle cx="316.2" cy="201.7" r="2.7"/>
<circle cx="316.7" cy="203.3" r="2.7"/>
<circle cx="316.8" cy="204.5" r="2.7"/>
<circle cx="317.3" cy="204.2" r="2.7"/>
<circle cx="317.6" cy="202" r="2.7"/>
<circle cx="318.1" cy="203.8" r="2.7"/>
<circle cx="318.2" cy="204" r="2.7"/>
<circle cx="318.6" cy="202.7" r="2.7"/>
<circle cx="319" cy="203.6" r="2.7"/>
<circle cx="319.4" cy="204.3" r="2.7"/>
<circle cx="319.7" cy="207.3" r="2.7"/>
<circle cx="320.1" cy="207.8" r="2.7"/>
<circle cx="320.3" cy="205.8" r="2.7"/>
<circle cx="320.7" cy="204.4" r="2.7"/>
</g>
<g fill="#12908c" stroke="#12908c">
<circle cx="320.9" cy="203.3" r="2.7"/>
</g>
<g fill="#1a5290" stroke="#1a5290">
<circle cx="321.3" cy="206.1" r="2.7"/>
<circle cx="321.8" cy="206.2" r="2.7"/>
<circle cx="322.1" cy="205" r="2.7"/>
<circle cx="322.4" cy="207.3" r="2.7"/>
<circle cx="322.9" cy="205.9" r="2.7"/>
<circle cx="322.9" cy="207.3" r="2.7"/>
<circle cx="323.3" cy="209.1" r="2.7"/>
<circle cx="323.6" cy="207.7" r="2.7"/>
<circle cx="324.2" cy="210.6" r="2.7"/>
<circle cx="324.5" cy="210.3" r="2.7"/>
<circle cx="324.7" cy="206.9" r="2.7"/>
<circle cx="324.9" cy="208.4" r="2.7"/>
<circle cx="325.3" cy="210.2" r="2.7"/>
<circle cx="325.9" cy="212.3" r="2.7"/>
<circle cx="326" cy="211.4" r="2.7"/>
<circle cx="326.5" cy="210.5" r="2.7"/>
<circle cx="326.7" cy="212.1" r="2.7"/>
</g>
<g fill="#12908c" stroke="#12908c">
<circle cx="327.2" cy="212.8" r="2.7"/>
<circle cx="327.5" cy="210.1" r="2.7"/>
</g>
<g fill="#1a5290" stroke="#1a5290">
<circle cx="327.9" cy="210.4" r="2.7"/>
<circle cx="328.1" cy="210.5" r="2.7"/>
<circle cx="328.6" cy="211.2" r="2.7"/>
<circle cx="328.9" cy="210.6" r="2.7"/>
</g>
<g fill="#12908c" stroke="#12908c">
<circle cx="255" cy="131.9" r="2.7"/>
</g>
<g fill="#46c554" stroke="#46c554">
<circle cx="255.5" cy="133.3" r="2.7"/>
<circle cx="255.7" cy="134.3" r="2.7"/>
<circle cx="256.1" cy="134" r="2.7"/>
<circle cx="256.5" cy="134.6" r="2.7"/>
</g>
<g fill="#1a5290" stroke="#1a5290">
<circle cx="256.7" cy="133.4" r="2.7"/>
</g>
<g fill="#12908c" stroke="#12908c">
<circle cx="256.9" cy="135.7" r="2.7"/>
</g>
<g fill="#46c554" stroke="#46c554">
<circle cx="257.2" cy="134.1" r="2.7"/>
<circle cx="257.8" cy="134.6" r="2.7"/>
<circle cx="258" cy="136" r="2.7"/>
<circle cx="258.3" cy="135" r="2.7"/>
</g>
<g fill="#12908c" stroke="#12908c">
<circle cx="258.6" cy="134.5" r="2.7"/>
</g>
<g fill="#46c554" stroke="#46c554">
<circle cx="259" cy="134" r="2.7"/>
</g>
<g fill="#12908c" stroke="#12908c">
<circle cx="259.1" cy="135" r="2.7"/>
<circle cx="259.6" cy="135.1" r="2.7"/>
</g>
<g fill="#1a5290" stroke="#1a5290">
<circle cx="260" cy="136.8" r="2.7"/>
</g>
<g fill="#12908c" stroke="#12908c">
<circle cx="260.1" cy="138.5" r="2.7"/>
</g>
<g fill="#46c554" stroke="#46c554">
<circle cx="260.6" cy="137.1" r="2.7"/>
<circle cx="260.8" cy="135.5" r="2.7"/>
<circle cx="261" cy="138.1" r="2.7"/>
<circle cx="261.5" cy="137.7" r="2.7"/>
</g>
<g fill="#12908c" stroke="#12908c">
<circle cx="261.9" cy="137.7" r="2.7"/>
<circle cx="262" cy="140.4" r="2.7"/>
</g>
<g fill="#1a5290" stroke="#1a5290">
<circle cx="262.4" cy="136.9" r="2.7"/>
</g>
<g fill="#46c554" stroke="#46c554">
<circle cx="262.7" cy="140.2" r="2.7"/>
</g>
<g fill="#12908c" stroke="#12908c">
<circle cx="262.9" cy="138.4" r="2.7"/>
</g>
<g fill="#46c554" stroke="#46c554">
<circle cx="263.2" cy="136.7" r="2.7"/>
<circle cx="263.5" cy="139.5" r="2.7"/>
<circle cx="263.8" cy="138.5" r="2.7"/>
<circle cx="264.3" cy="140.7" r="2.7"/>
<circle cx="264.7" cy="142" r="2.7"/>
<circle cx="264.7" cy="141.4" r="2.7"/>
<circle cx="265" cy="141.5" r="2.7"/>
<circle cx="265.6" cy="142.9" r="2.7"/>
<circle cx="265.8" cy="140.4" r="2.7"/>
<circle cx="266" cy="139.6" r="2.7"/>
<circle cx="266.5" cy="141.7" r="2.7"/>
<circle cx="266.9" cy="141.9" r="2.7"/>
<circle cx="267.1" cy="142.5" r="2.7"/>
<circle cx="267.2" cy="143.7" r="2.7"/>
</g>
<g fill="#1a5290" stroke="#1a5290">
<circle cx="267.8" cy="144.5" r="2.7"/>
</g>
<g fill="#12908c" stroke="#12908c">
<circle cx="268.1" cy="144" r="2.7"/>
</g>
<g fill="#46c554" stroke="#46c554">
<circle cx="268.3" cy="141.5" r="2.7"/>
<circle cx="268.6" cy="143.8" r="2.7"/>
<circle cx="268.9" cy="145.1" r="2.7"/>
</g>
<g fill="#12908c" stroke="#12908c">
<circle cx="269.3" cy="142.3" r="2.7"/>
<circle cx="269.7" cy="145" r="2.7"/>
</g>
<g fill="#46c554" stroke="#46c554">
<circle cx="270" cy="148.2" r="2.7"/>
<circle cx="270.3" cy="147.3" r="2.7"/>
<circle cx="270.6" cy="146.4" r="2.7"/>
<circle cx="270.9" cy="139" r="2.7"/>
<circle cx="271.1" cy="145.6" r="2.7"/>
<circle cx="271.3" cy="144.2" r="2.7"/>
<circle cx="271.7" cy="144.8" r="2.7"/>
<circle cx="272" cy="146.8" r="2.7"/>
<circle cx="272.4" cy="147.5" r="2.7"/>
</g>
<g fill="#1a5290" stroke="#1a5290">
<circle cx="272.6" cy="143.9" r="2.7"/>
</g>
<g fill="#12908c" stroke="#12908c">
<circle cx="273" cy="149.3" r="2.7"/>
</g>
<g fill="#46c554" stroke="#46c554">
<circle cx="273.3" cy="146.7" r="2.7"/>
<circle cx="273.5" cy="148.2" r="2.7"/>
</g>
<g fill="#12908c" stroke="#12908c">
<circle cx="274.1" cy="146.2" r="2.7"/>
</g>
<g fill="#46c554" stroke="#46c554">
<circle cx="274.3" cy="145.1" r="2.7"/>
<circle cx="274.5" cy="148" r="2.7"/>
<circle cx="274.8" cy="151.2" r="2.7"/>
<circle cx="275.1" cy="145.2" r="2.7"/>
<circle cx="275.4" cy="149.6" r="2.7"/>
<circle cx="275.7" cy="147.8" r="2.7"/>
</g>
<g fill="#12908c" stroke="#12908c">
<circle cx="276.2" cy="150.8" r="2.7"/>
</g>
<g fill="#46c554" stroke="#46c554">
<circle cx="276.5" cy="150.8" r="2.7"/>
<circle cx="276.7" cy="148.8" r="2.7"/>
<circle cx="277.2" cy="149.3" r="2.7"/>
<circle cx="277.4" cy="149.8" r="2.7"/>
<circle cx="277.6" cy="152.3" r="2.7"/>
<circle cx="277.9" cy="151.2" r="2.7"/>
<circle cx="278.2" cy="149.7" r="2.7"/>
<circle cx="278.7" cy="150.5" r="2.7"/>
<circle cx="278.8" cy="151.2" r="2.7"/>
</g>
<g fill="#12908c" stroke="#12908c">
<circle cx="279.1" cy="150.9" r="2.7"/>
</g>
<g fill="#46c554" stroke="#46c554">
<circle cx="279.5" cy="153.3" r="2.7"/>
</g>
<g fill="#12908c" stroke="#12908c">
<circle cx="279.8" cy="152.2" r="2.7"/>
</g>
<g fill="#46c554" stroke="#46c554">
<circle cx="280.2" cy="152.5" r="2.7"/>
<circle cx="280.5" cy="151.3" r="2.7"/>
<circle cx="280.7" cy="152.3" r="2.7"/>
<circle cx="281" cy="152.6" r="2.7"/>
</g>
<g fill="#12908c" stroke="#12908c">
<circle cx="281.5" cy="152.2" r="2.7"/>
</g>
<g fill="#1a5290" stroke="#1a5290">
<circle cx="281.7" cy="152.5" r="2.7"/>
</g>
<g fill="#46c554" stroke="#46c554">
<circle cx="282" cy="153.7" r="2.7"/>
<circle cx="282.5" cy="154.4" r="2.7"/>
<circle cx="282.8" cy="152.9" r="2.7"/>
<circle cx="283" cy="153.9" r="2.7"/>
<circle cx="283.3" cy="154.4" r="2.7"/>
</g>
<g fill="#12908c" stroke="#12908c">
<circle cx="283.8" cy="156.4" r="2.7"/>
</g>
<g fill="#46c554" stroke="#46c554">
<circle cx="284" cy="153" r="2.7"/>
</g>
<g fill="#12908c" stroke="#12908c">
<circle cx="284.3" cy="156.3" r="2.7"/>
<circle cx="284.4" cy="154.6" r="2.7"/>
<circle cx="285" cy="156.1" r="2.7"/>
</g>
<g fill="#46c554" stroke="#46c554">
<circle cx="285.2" cy="156.3" r="2.7"/>
<circle cx="285.5" cy="155.2" r="2.7"/>
<circle cx="285.8" cy="158" r="2.7"/>
<circle cx="286.2" cy="157.2" r="2.7"/>
</g>
<g fill="#1a5290" stroke="#1a5290">
<circle cx="286.5" cy="156.1" r="2.7"/>
</g>
<g fill="#12908c" stroke="#12908c">
<circle cx="286.9" cy="154.8" r="2.7"/>
<circle cx="287.1" cy="157.4" r="2.7"/>
</g>
<g fill="#46c554" stroke="#46c554">
<circle cx="287.4" cy="158.6" r="2.7"/>
<circle cx="287.7" cy="159.2" r="2.7"/>
<circle cx="288" cy="160" r="2.7"/>
</g>
<g fill="#1a5290" stroke="#1a5290">
<circle cx="288.2" cy="159" r="2.7"/>
</g>
<g fill="#46c554" stroke="#46c554">
<circle cx="288.6" cy="158.7" r="2.7"/>
<circle cx="289" cy="161.6" r="2.7"/>
</g>
<g fill="#12908c" stroke="#12908c">
<circle cx="289.2" cy="159.1" r="2.7"/>
</g>
<g fill="#46c554" stroke="#46c554">
<circle cx="289.7" cy="160.4" r="2.7"/>
<circle cx="289.9" cy="160.1" r="2.7"/>
<circle cx="290.2" cy="160.5" r="2.7"/>
<circle cx="290.4" cy="160.9" r="2.7"/>
<circle cx="290.9" cy="160.2" r="2.7"/>
<circle cx="291.2" cy="161.8" r="2.7"/>
<circle cx="291.6" cy="160.8" r="2.7"/>
<circle cx="291.7" cy="162.7" r="2.7"/>
<circle cx="292" cy="161.1" r="2.7"/>
<circle cx="292.4" cy="162.3" r="2.7"/>
</g>
<g fill="#12908c" stroke="#12908c">
<circle cx="292.6" cy="163" r="2.7"/>
<circle cx="293.1" cy="162.1" r="2.7"/>
<circle cx="293.4" cy="161.7" r="2.7"/>
</g>
<g fill="#46c554" stroke="#46c554">
<circle cx="293.5" cy="163.8" r="2.7"/>
<circle cx="294" cy="163.8" r="2.7"/>
<circle cx="294.3" cy="163.4" r="2.7"/>
<circle cx="294.5" cy="162.3" r="2.7"/>
<circle cx="294.8" cy="161.2" r="2.7"/>
</g>
<g fill="#1a5290" stroke="#1a5290">
<circle cx="295.2" cy="164.4" r="2.7"/>
<circle cx="295.7" cy="164.2" r="2.7"/>
</g>
<g fill="#46c554" stroke="#46c554">
<circle cx="295.9" cy="164.4" r="2.7"/>
</g>
<g fill="#12908c" stroke="#12908c">
<circle cx="296.3" cy="162.2" r="2.7"/>
</g>
<g fill="#46c554" stroke="#46c554">
<circle cx="296.4" cy="165" r="2.7"/>
</g>
<g fill="#1a5290" stroke="#1a5290">
<circle cx="296.8" cy="165.1" r="2.7"/>
</g>
<g fill="#46c554" stroke="#46c554">
<circle cx="297" cy="164.8" r="2.7"/>
<circle cx="297.6" cy="165.6" r="2.7"/>
</g>
<g fill="#12908c" stroke="#12908c">
<circle cx="297.7" cy="165.5" r="2.7"/>
</g>
<g fill="#46c554" stroke="#46c554">
<circle cx="298" cy="167.4" r="2.7"/>
<circle cx="298.3" cy="166.8" r="2.7"/>
<circle cx="298.5" cy="171.3" r="2.7"/>
</g>
<g fill="#12908c" stroke="#12908c">
<circle cx="298.9" cy="164.6" r="2.7"/>
</g>
<g fill="#46c554" stroke="#46c554">
<circle cx="299.2" cy="167.8" r="2.7"/>
<circle cx="299.6" cy="167.1" r="2.7"/>
<circle cx="299.8" cy="166.6" r="2.7"/>
<circle cx="300.2" cy="168.2" r="2.7"/>
<circle cx="300.6" cy="170.5" r="2.7"/>
<circle cx="300.7" cy="167.5" r="2.7"/>
<circle cx="301.3" cy="169.9" r="2.7"/>
<circle cx="301.3" cy="169" r="2.7"/>
</g>
<g fill="#1a5290" stroke="#1a5290">
<circle cx="301.7" cy="169.9" r="2.7"/>
</g>
<g fill="#46c554" stroke="#46c554">
<circle cx="302" cy="170.2" r="2.7"/>
<circle cx="302.4" cy="171.5" r="2.7"/>
<circle cx="302.6" cy="168.7" r="2.7"/>
<circle cx="303.2" cy="172" r="2.7"/>
<circle cx="303.4" cy="170.9" r="2.7"/>
<circle cx="303.8" cy="171.1" r="2.7"/>
<circle cx="303.8" cy="176" r="2.7"/>
<circle cx="304.3" cy="174.5" r="2.7"/>
<circle cx="304.5" cy="170.5" r="2.7"/>
<circle cx="304.9" cy="171.3" r="2.7"/>
<circle cx="305.4" cy="171.4" r="2.7"/>
</g>
<g fill="#12908c" stroke="#12908c">
<circle cx="305.6" cy="169.7" r="2.7"/>
</g>
<g fill="#46c554" stroke="#46c554">
<circle cx="305.7" cy="172.2" r="2.7"/>
</g>
<g fill="#1a5290" stroke="#1a5290">
<circle cx="306.1" cy="169.8" r="2.7"/>
</g>
<g fill="#46c554" stroke="#46c554">
<circle cx="306.4" cy="170.5" r="2.7"/>
</g>
<g fill="#12908c" stroke="#12908c">
<circle cx="306.8" cy="172" r="2.7"/>
</g>
<g fill="#1a5290" stroke="#1a5290">
<circle cx="307" cy="172.2" r="2.7"/>
</g>
<g fill="#46c554" stroke="#46c554">
<circle cx="307.5" cy="173.1" r="2.7"/>
<circle cx="307.7" cy="175" r="2.7"/>
<circle cx="308" cy="173.1" r="2.7"/>
<circle cx="308.5" cy="172.3" r="2.7"/>
<circle cx="308.6" cy="173.3" r="2.7"/>
<circle cx="309.1" cy="173.9" r="2.7"/>
<circle cx="309.2" cy="175.8" r="2.7"/>
<circle cx="309.6" cy="173.2" r="2.7"/>
</g>
<g fill="#12908c" stroke="#12908c">
<circle cx="309.8" cy="173.2" r="2.7"/>
</g>
<g fill="#46c554" stroke="#46c554">
<circle cx="310.3" cy="174.7" r="2.7"/>
<circle cx="310.6" cy="175.3" r="2.7"/>
<circle cx="310.9" cy="176" r="2.7"/>
<circle cx="311.1" cy="173.3" r="2.7"/>
<circle cx="311.4" cy="176" r="2.7"/>
<circle cx="311.8" cy="177" r="2.7"/>
<circle cx="312" cy="177" r="2.7"/>
<circle cx="312.4" cy="176.3" r="2.7"/>
<circle cx="312.8" cy="178" r="2.7"/>
<circle cx="313" cy="175.4" r="2.7"/>
<circle cx="313.3" cy="179.4" r="2.7"/>
<circle cx="313.6" cy="177.1" r="2.7"/>
<circle cx="313.9" cy="176.7" r="2.7"/>
<circle cx="314.3" cy="180" r="2.7"/>
<circle cx="314.7" cy="182.5" r="2.7"/>
</g>
<g fill="#12908c" stroke="#12908c">
<circle cx="314.8" cy="178.6" r="2.7"/>
</g>
<g fill="#46c554" stroke="#46c554">
<circle cx="315.3" cy="181.1" r="2.7"/>
<circle cx="315.6" cy="177.8" r="2.7"/>
<circle cx="316" cy="179.1" r="2.7"/>
</g>
<g fill="#1a5290" stroke="#1a5290">
<circle cx="316.3" cy="179.3" r="2.7"/>
</g>
<g fill="#46c554" stroke="#46c554">
<circle cx="316.5" cy="178.4" r="2.7"/>
<circle cx="316.7" cy="178.4" r="2.7"/>
<circle cx="317.1" cy="178.5" r="2.7"/>
<circle cx="317.6" cy="181.5" r="2.7"/>
<circle cx="317.7" cy="181.4" r="2.7"/>
<circle cx="317.9" cy="181.3" r="2.7"/>
</g>
<g fill="#12908c" stroke="#12908c">
<circle cx="318.4" cy="182" r="2.7"/>
</g>
<g fill="#46c554" stroke="#46c554">
<circle cx="318.7" cy="181.4" r="2.7"/>
</g>
<g fill="#12908c" stroke="#12908c">
<circle cx="319.1" cy="182.9" r="2.7"/>
</g>
<g fill="#1a5290" stroke="#1a5290">
<circle cx="319.2" cy="181.4" r="2.7"/>
</g>
<g fill="#46c554" stroke="#46c554">
<circle cx="319.7" cy="183.1" r="2.7"/>
<circle cx="320" cy="184.4" r="2.7"/>
</g>
<g fill="#12908c" stroke="#12908c">
<circle cx="320.2" cy="183" r="2.7"/>
</g>
<g fill="#46c554" stroke="#46c554">
<circle cx="320.4" cy="182.8" r="2.7"/>
<circle cx="321" cy="184.3" r="2.7"/>
<circle cx="321" cy="184.4" r="2.7"/>
</g>
<g fill="#12908c" stroke="#12908c">
<circle cx="321.7" cy="184.8" r="2.7"/>
</g>
<g fill="#1a5290" stroke="#1a5290">
<circle cx="322" cy="183.5" r="2.7"/>
</g>
<g fill="#12908c" stroke="#12908c">
<circle cx="322.2" cy="183.2" r="2.7"/>
<circle cx="322.5" cy="186.7" r="2.7"/>
</g>
<g fill="#46c554" stroke="#46c554">
<circle cx="322.8" cy="184.7" r="2.7"/>
<circle cx="323.2" cy="186.8" r="2.7"/>
<circle cx="323.4" cy="186" r="2.7"/>
<circle cx="323.6" cy="186.1" r="2.7"/>
<circle cx="324.1" cy="186.3" r="2.7"/>
</g>
<g fill="#12908c" stroke="#12908c">
<circle cx="324.4" cy="186.1" r="2.7"/>
<circle cx="324.7" cy="189.1" r="2.7"/>
<circle cx="324.9" cy="186.6" r="2.7"/>
</g>
<g fill="#46c554" stroke="#46c554">
<circle cx="325.3" cy="188.2" r="2.7"/>
<circle cx="325.7" cy="187.1" r="2.7"/>
<circle cx="325.8" cy="187.4" r="2.7"/>
<circle cx="326.4" cy="187.1" r="2.7"/>
<circle cx="326.5" cy="186.1" r="2.7"/>
</g>
<g fill="#12908c" stroke="#12908c">
<circle cx="326.7" cy="188.2" r="2.7"/>
</g>
<g fill="#46c554" stroke="#46c554">
<circle cx="327.1" cy="187" r="2.7"/>
<circle cx="327.4" cy="186.9" r="2.7"/>
<circle cx="327.9" cy="188.5" r="2.7"/>
<circle cx="328" cy="191" r="2.7"/>
<circle cx="328.5" cy="187.2" r="2.7"/>
<circle cx="328.6" cy="189.9" r="2.7"/>
<circle cx="328.9" cy="189" r="2.7"/>
<circle cx="329.3" cy="191.3" r="2.7"/>
<circle cx="329.6" cy="189" r="2.7"/>
</g>
<g fill="#12908c" stroke="#12908c">
<circle cx="329.8" cy="192.2" r="2.7"/>
<circle cx="330.2" cy="189.4" r="2.7"/>
</g>
<g fill="#46c554" stroke="#46c554">
<circle cx="330.7" cy="194.3" r="2.7"/>
</g>
<g fill="#1a5290" stroke="#1a5290">
<circle cx="330.9" cy="193.3" r="2.7"/>
</g>
<g fill="#46c554" stroke="#46c554">
<circle cx="331.3" cy="194.1" r="2.7"/>
<circle cx="331.4" cy="191.6" r="2.7"/>
</g>
<g fill="#12908c" stroke="#12908c">
<circle cx="331.9" cy="190.5" r="2.7"/>
</g>
<g fill="#46c554" stroke="#46c554">
<circle cx="332.2" cy="192.7" r="2.7"/>
<circle cx="332.5" cy="193.7" r="2.7"/>
</g>
<g fill="#12908c" stroke="#12908c">
<circle cx="332.8" cy="193.3" r="2.7"/>
<circle cx="333" cy="190.5" r="2.7"/>
</g>
<g fill="#46c554" stroke="#46c554">
<circle cx="333.3" cy="191.8" r="2.7"/>
<circle cx="333.7" cy="194" r="2.7"/>
<circle cx="334.1" cy="195.6" r="2.7"/>
<circle cx="334.3" cy="192.5" r="2.7"/>
</g>
<g fill="#12908c" stroke="#12908c">
<circle cx="334.5" cy="194.1" r="2.7"/>
</g>
<g fill="#1a5290" stroke="#1a5290">
<circle cx="335" cy="196.2" r="2.7"/>
</g>
<g fill="#46c554" stroke="#46c554">
<circle cx="335.2" cy="193.5" r="2.7"/>
<circle cx="335.6" cy="193" r="2.7"/>
</g>
<g fill="#12908c" stroke="#12908c">
<circle cx="336" cy="195.5" r="2.7"/>
</g>
<g fill="#46c554" stroke="#46c554">
<circle cx="336.2" cy="195.4" r="2.7"/>
<circle cx="336.6" cy="197" r="2.7"/>
<circle cx="336.9" cy="195.4" r="2.7"/>
</g>
<g fill="#fbe018" stroke="#fbe018">
<circle cx="302.7" cy="169" r="2.7"/>
<circle cx="307.4" cy="174.2" r="2.7"/>
<circle cx="311.6" cy="176.1" r="2.7"/>
<circle cx="315.9" cy="180.6" r="2.7"/>
<circle cx="318.4" cy="183.3" r="2.7"/>
</g>
<g fill="#46c554" stroke="#46c554">
<circle cx="334.4" cy="192.9" r="2.7"/>
<circle cx="334.8" cy="192.8" r="2.7"/>
<circle cx="335.7" cy="195.9" r="2.7"/>
</g>
<g fill="#1a5290" stroke="#1a5290">
<circle cx="336" cy="195.3" r="2.7"/>
<circle cx="336.5" cy="195.2" r="2.7"/>
<circle cx="337.3" cy="194.4" r="2.7"/>
<circle cx="337.8" cy="197.2" r="2.7"/>
</g>
<g fill="#12908c" stroke="#12908c">
<circle cx="338.2" cy="196.5" r="2.7"/>
</g>
<g fill="#1a5290" stroke="#1a5290">
<circle cx="339.1" cy="197" r="2.7"/>
</g>
<g fill="#12908c" stroke="#12908c">
<circle cx="339.5" cy="197.1" r="2.7"/>
</g>
<g fill="#1a5290" stroke="#1a5290">
<circle cx="340.1" cy="198.8" r="2.7"/>
</g>
<g fill="#46c554" stroke="#46c554">
<circle cx="340.6" cy="198.5" r="2.7"/>
<circle cx="341" cy="197.4" r="2.7"/>
</g>
<g fill="#1a5290" stroke="#1a5290">
<circle cx="341.5" cy="199.1" r="2.7"/>
<circle cx="342.3" cy="199.4" r="2.7"/>
<circle cx="342.7" cy="199.7" r="2.7"/>
</g>
<g fill="#46c554" stroke="#46c554">
<circle cx="343.4" cy="200.2" r="2.7"/>
</g>
<g fill="#12908c" stroke="#12908c">
<circle cx="343.9" cy="200" r="2.7"/>
</g>
<g fill="#1a5290" stroke="#1a5290">
<circle cx="344.3" cy="200.9" r="2.7"/>
<circle cx="345.4" cy="202.7" r="2.7"/>
<circle cx="345.7" cy="202.5" r="2.7"/>
<circle cx="337" cy="195" r="2.7"/>
<circle cx="337.5" cy="199.3" r="2.7"/>
<circle cx="337.9" cy="198.8" r="2.7"/>
<circle cx="338.6" cy="199.2" r="2.7"/>
<circle cx="339" cy="195.9" r="2.7"/>
<circle cx="339.3" cy="199.4" r="2.7"/>
<circle cx="340" cy="198.9" r="2.7"/>
<circle cx="340.1" cy="198.4" r="2.7"/>
<circle cx="340.9" cy="200.1" r="2.7"/>
<circle cx="341.1" cy="200.1" r="2.7"/>
<circle cx="341.5" cy="197" r="2.7"/>
<circle cx="342.2" cy="199.8" r="2.7"/>
<circle cx="342.6" cy="199.9" r="2.7"/>
<circle cx="342.8" cy="199.1" r="2.7"/>
<circle cx="343.5" cy="201.1" r="2.7"/>
<circle cx="344" cy="201.1" r="2.7"/>
<circle cx="344.2" cy="201.6" r="2.7"/>
<circle cx="344.6" cy="201" r="2.7"/>
<circle cx="345.3" cy="203.6" r="2.7"/>
<circle cx="345.5" cy="203.6" r="2.7"/>
<circle cx="346.2" cy="201.7" r="2.7"/>
<circle cx="346.4" cy="203.5" r="2.7"/>
<circle cx="346.8" cy="204.7" r="2.7"/>
<circle cx="347.2" cy="204.3" r="2.7"/>
<circle cx="347.5" cy="204.1" r="2.7"/>
<circle cx="348.2" cy="203.6" r="2.7"/>
<circle cx="348.7" cy="205.4" r="2.7"/>
<circle cx="349.1" cy="206.9" r="2.7"/>
<circle cx="349.7" cy="206.5" r="2.7"/>
<circle cx="350.1" cy="207.7" r="2.7"/>
<circle cx="350.4" cy="206.6" r="2.7"/>
<circle cx="350.7" cy="207.6" r="2.7"/>
<circle cx="352.2" cy="208.4" r="2.7"/>
</g>
<g fill="#fbe018" stroke="#fbe018">
<circle cx="352" cy="208.2" r="2.7"/>
</g>
<g fill="#1a5290" stroke="#1a5290">
<circle cx="351" cy="211.8" r="2.7"/>
</g>
<g fill="#12908c" stroke="#12908c">
<circle cx="288.2" cy="133.4" r="2.7"/>
</g>
<g fill="#46c554" stroke="#46c554">
<circle cx="288.5" cy="136.8" r="2.7"/>
<circle cx="288.7" cy="137.7" r="2.7"/>
<circle cx="289.3" cy="136.9" r="2.7"/>
<circle cx="289.5" cy="135.4" r="2.7"/>
</g>
<g fill="#12908c" stroke="#12908c">
<circle cx="289.9" cy="136.8" r="2.7"/>
</g>
<g fill="#46c554" stroke="#46c554">
<circle cx="290.3" cy="140.2" r="2.7"/>
<circle cx="290.7" cy="138.1" r="2.7"/>
<circle cx="291" cy="137.2" r="2.7"/>
<circle cx="291.3" cy="137.8" r="2.7"/>
<circle cx="291.7" cy="139" r="2.7"/>
<circle cx="292" cy="138.8" r="2.7"/>
<circle cx="292.2" cy="138.1" r="2.7"/>
<circle cx="292.6" cy="140.5" r="2.7"/>
<circle cx="293.1" cy="138.3" r="2.7"/>
</g>
<g fill="#12908c" stroke="#12908c">
<circle cx="293.3" cy="139.2" r="2.7"/>
<circle cx="293.6" cy="141.8" r="2.7"/>
</g>
<g fill="#46c554" stroke="#46c554">
<circle cx="294" cy="140.1" r="2.7"/>
<circle cx="294.3" cy="140.6" r="2.7"/>
<circle cx="294.9" cy="142.3" r="2.7"/>
<circle cx="295.1" cy="141.8" r="2.7"/>
<circle cx="295.4" cy="140.3" r="2.7"/>
</g>
<g fill="#12908c" stroke="#12908c">
<circle cx="295.6" cy="142.6" r="2.7"/>
</g>
<g fill="#46c554" stroke="#46c554">
<circle cx="296.1" cy="144.3" r="2.7"/>
</g>
<g fill="#1a5290" stroke="#1a5290">
<circle cx="296.5" cy="142.9" r="2.7"/>
</g>
<g fill="#46c554" stroke="#46c554">
<circle cx="296.9" cy="142.9" r="2.7"/>
<circle cx="297.2" cy="143.6" r="2.7"/>
<circle cx="297.5" cy="143.8" r="2.7"/>
<circle cx="297.7" cy="142.6" r="2.7"/>
</g>
<g fill="#12908c" stroke="#12908c">
<circle cx="298.1" cy="142.6" r="2.7"/>
</g>
<g fill="#46c554" stroke="#46c554">
<circle cx="298.3" cy="143.2" r="2.7"/>
<circle cx="298.7" cy="144.3" r="2.7"/>
<circle cx="299.1" cy="144.9" r="2.7"/>
</g>
<g fill="#12908c" stroke="#12908c">
<circle cx="299.5" cy="142.6" r="2.7"/>
</g>
<g fill="#46c554" stroke="#46c554">
<circle cx="299.8" cy="146.7" r="2.7"/>
<circle cx="300.3" cy="147.2" r="2.7"/>
<circle cx="300.5" cy="145.9" r="2.7"/>
<circle cx="300.8" cy="144.2" r="2.7"/>
<circle cx="301.2" cy="147.4" r="2.7"/>
</g>
<g fill="#12908c" stroke="#12908c">
<circle cx="301.7" cy="138" r="2.7"/>
</g>
<g fill="#1a5290" stroke="#1a5290">
<circle cx="301.7" cy="145.8" r="2.7"/>
</g>
<g fill="#46c554" stroke="#46c554">
<circle cx="302.2" cy="147.5" r="2.7"/>
</g>
<g fill="#12908c" stroke="#12908c">
<circle cx="302.7" cy="146.9" r="2.7"/>
<circle cx="303" cy="146.9" r="2.7"/>
</g>
<g fill="#46c554" stroke="#46c554">
<circle cx="303.4" cy="147.4" r="2.7"/>
</g>
<g fill="#12908c" stroke="#12908c">
<circle cx="303.6" cy="145.3" r="2.7"/>
</g>
<g fill="#46c554" stroke="#46c554">
<circle cx="303.9" cy="146.7" r="2.7"/>
</g>
<g fill="#12908c" stroke="#12908c">
<circle cx="304.3" cy="148.4" r="2.7"/>
<circle cx="304.5" cy="148.1" r="2.7"/>
</g>
<g fill="#46c554" stroke="#46c554">
<circle cx="304.9" cy="146.9" r="2.7"/>
</g>
<g fill="#12908c" stroke="#12908c">
<circle cx="305.4" cy="149.1" r="2.7"/>
</g>
<g fill="#46c554" stroke="#46c554">
<circle cx="305.5" cy="147.3" r="2.7"/>
</g>
<g fill="#12908c" stroke="#12908c">
<circle cx="305.9" cy="149.6" r="2.7"/>
</g>
<g fill="#46c554" stroke="#46c554">
<circle cx="306.2" cy="149.1" r="2.7"/>
</g>
<g fill="#1a5290" stroke="#1a5290">
<circle cx="306.8" cy="149" r="2.7"/>
</g>
<g fill="#46c554" stroke="#46c554">
<circle cx="307.1" cy="152" r="2.7"/>
<circle cx="307.5" cy="153.6" r="2.7"/>
<circle cx="307.8" cy="151.6" r="2.7"/>
<circle cx="307.9" cy="153.3" r="2.7"/>
<circle cx="308.5" cy="150.9" r="2.7"/>
<circle cx="308.7" cy="150.6" r="2.7"/>
<circle cx="309.1" cy="150.6" r="2.7"/>
<circle cx="309.4" cy="152" r="2.7"/>
<circle cx="309.9" cy="153" r="2.7"/>
<circle cx="310.2" cy="155.1" r="2.7"/>
<circle cx="310.3" cy="153.3" r="2.7"/>
<circle cx="310.9" cy="151.8" r="2.7"/>
</g>
<g fill="#12908c" stroke="#12908c">
<circle cx="311" cy="152" r="2.7"/>
</g>
<g fill="#46c554" stroke="#46c554">
<circle cx="311.5" cy="154.9" r="2.7"/>
<circle cx="311.7" cy="154.3" r="2.7"/>
<circle cx="312.3" cy="154.8" r="2.7"/>
</g>
<g fill="#12908c" stroke="#12908c">
<circle cx="312.6" cy="155.9" r="2.7"/>
</g>
<g fill="#46c554" stroke="#46c554">
<circle cx="312.7" cy="155.6" r="2.7"/>
<circle cx="313.3" cy="156.1" r="2.7"/>
<circle cx="313.5" cy="155.4" r="2.7"/>
<circle cx="314" cy="156.6" r="2.7"/>
<circle cx="314.2" cy="156.1" r="2.7"/>
</g>
<g fill="#12908c" stroke="#12908c">
<circle cx="314.6" cy="154" r="2.7"/>
<circle cx="315" cy="157.9" r="2.7"/>
</g>
<g fill="#46c554" stroke="#46c554">
<circle cx="315.3" cy="153.7" r="2.7"/>
</g>
<g fill="#1a5290" stroke="#1a5290">
<circle cx="315.7" cy="154.6" r="2.7"/>
</g>
<g fill="#46c554" stroke="#46c554">
<circle cx="315.8" cy="156.6" r="2.7"/>
<circle cx="316.2" cy="156.7" r="2.7"/>
<circle cx="316.6" cy="158.7" r="2.7"/>
<circle cx="317.1" cy="158.4" r="2.7"/>
<circle cx="317.3" cy="159.7" r="2.7"/>
</g>
<g fill="#12908c" stroke="#12908c">
<circle cx="317.8" cy="161" r="2.7"/>
</g>
<g fill="#46c554" stroke="#46c554">
<circle cx="317.8" cy="158.2" r="2.7"/>
<circle cx="318.3" cy="156.9" r="2.7"/>
<circle cx="318.5" cy="160" r="2.7"/>
</g>
<g fill="#1a5290" stroke="#1a5290">
<circle cx="319" cy="159.2" r="2.7"/>
</g>
<g fill="#46c554" stroke="#46c554">
<circle cx="319.3" cy="160.4" r="2.7"/>
<circle cx="319.7" cy="160.7" r="2.7"/>
<circle cx="319.9" cy="160.5" r="2.7"/>
<circle cx="320.3" cy="160.7" r="2.7"/>
<circle cx="320.6" cy="161.4" r="2.7"/>
</g>
<g fill="#12908c" stroke="#12908c">
<circle cx="321.2" cy="162.1" r="2.7"/>
<circle cx="321.5" cy="160.6" r="2.7"/>
<circle cx="321.9" cy="161" r="2.7"/>
</g>
<g fill="#46c554" stroke="#46c554">
<circle cx="322.2" cy="161.3" r="2.7"/>
<circle cx="322.3" cy="163.6" r="2.7"/>
<circle cx="322.7" cy="163.3" r="2.7"/>
<circle cx="323" cy="161.7" r="2.7"/>
</g>
<g fill="#12908c" stroke="#12908c">
<circle cx="323.5" cy="162.6" r="2.7"/>
<circle cx="323.7" cy="163.8" r="2.7"/>
</g>
<g fill="#46c554" stroke="#46c554">
<circle cx="324.1" cy="164.4" r="2.7"/>
</g>
<g fill="#12908c" stroke="#12908c">
<circle cx="324.5" cy="164.7" r="2.7"/>
</g>
<g fill="#1a5290" stroke="#1a5290">
<circle cx="324.9" cy="163.8" r="2.7"/>
</g>
<g fill="#46c554" stroke="#46c554">
<circle cx="325.1" cy="163.9" r="2.7"/>
<circle cx="325.4" cy="164.1" r="2.7"/>
<circle cx="325.9" cy="163.7" r="2.7"/>
<circle cx="326.4" cy="166.5" r="2.7"/>
<circle cx="326.5" cy="165.7" r="2.7"/>
<circle cx="326.9" cy="166.3" r="2.7"/>
<circle cx="327.1" cy="165.3" r="2.7"/>
</g>
<g fill="#1a5290" stroke="#1a5290">
<circle cx="327.4" cy="165.5" r="2.7"/>
</g>
<g fill="#46c554" stroke="#46c554">
<circle cx="327.8" cy="169.1" r="2.7"/>
<circle cx="328.4" cy="166.7" r="2.7"/>
<circle cx="328.7" cy="172.5" r="2.7"/>
<circle cx="328.9" cy="168.2" r="2.7"/>
<circle cx="329.2" cy="168.6" r="2.7"/>
<circle cx="329.8" cy="168.1" r="2.7"/>
<circle cx="329.8" cy="168.5" r="2.7"/>
<circle cx="330.4" cy="170.3" r="2.7"/>
<circle cx="330.7" cy="167.4" r="2.7"/>
</g>
<g fill="#12908c" stroke="#12908c">
<circle cx="331" cy="168.4" r="2.7"/>
</g>
<g fill="#46c554" stroke="#46c554">
<circle cx="331.2" cy="166.5" r="2.7"/>
</g>
<g fill="#12908c" stroke="#12908c">
<circle cx="331.8" cy="167.2" r="2.7"/>
</g>
<g fill="#46c554" stroke="#46c554">
<circle cx="332.2" cy="168.6" r="2.7"/>
</g>
<g fill="#12908c" stroke="#12908c">
<circle cx="332.4" cy="168.4" r="2.7"/>
</g>
<g fill="#46c554" stroke="#46c554">
<circle cx="332.8" cy="169" r="2.7"/>
<circle cx="333" cy="170.8" r="2.7"/>
</g>
<g fill="#12908c" stroke="#12908c">
<circle cx="333.5" cy="168.1" r="2.7"/>
</g>
<g fill="#46c554" stroke="#46c554">
<circle cx="333.7" cy="173.6" r="2.7"/>
</g>
<g fill="#12908c" stroke="#12908c">
<circle cx="334" cy="170.5" r="2.7"/>
</g>
<g fill="#46c554" stroke="#46c554">
<circle cx="334.5" cy="171.5" r="2.7"/>
<circle cx="334.9" cy="173.5" r="2.7"/>
<circle cx="335.2" cy="170.3" r="2.7"/>
<circle cx="335.3" cy="171" r="2.7"/>
</g>
<g fill="#12908c" stroke="#12908c">
<circle cx="336" cy="169.7" r="2.7"/>
</g>
<g fill="#46c554" stroke="#46c554">
<circle cx="336" cy="171.3" r="2.7"/>
<circle cx="336.4" cy="173.8" r="2.7"/>
<circle cx="337" cy="174.5" r="2.7"/>
<circle cx="337.2" cy="173.6" r="2.7"/>
<circle cx="337.5" cy="175.3" r="2.7"/>
<circle cx="337.8" cy="174.1" r="2.7"/>
<circle cx="338.1" cy="174" r="2.7"/>
</g>
<g fill="#12908c" stroke="#12908c">
<circle cx="338.7" cy="173.7" r="2.7"/>
<circle cx="338.8" cy="176.9" r="2.7"/>
</g>
<g fill="#1a5290" stroke="#1a5290">
<circle cx="339.2" cy="172.5" r="2.7"/>
</g>
<g fill="#12908c" stroke="#12908c">
<circle cx="339.7" cy="174.2" r="2.7"/>
</g>
<g fill="#1a5290" stroke="#1a5290">
<circle cx="340.1" cy="178.3" r="2.7"/>
</g>
<g fill="#46c554" stroke="#46c554">
<circle cx="340.2" cy="174.7" r="2.7"/>
<circle cx="340.6" cy="172.8" r="2.7"/>
<circle cx="341.1" cy="175.8" r="2.7"/>
</g>
<g fill="#1a5290" stroke="#1a5290">
<circle cx="341.4" cy="175.3" r="2.7"/>
</g>
<g fill="#46c554" stroke="#46c554">
<circle cx="341.6" cy="175.4" r="2.7"/>
<circle cx="342.2" cy="177" r="2.7"/>
<circle cx="342.5" cy="176.7" r="2.7"/>
<circle cx="342.8" cy="176.5" r="2.7"/>
</g>
<g fill="#1a5290" stroke="#1a5290">
<circle cx="343.1" cy="179.8" r="2.7"/>
</g>
<g fill="#46c554" stroke="#46c554">
<circle cx="343.3" cy="179.7" r="2.7"/>
<circle cx="343.6" cy="180.2" r="2.7"/>
<circle cx="343.9" cy="179.9" r="2.7"/>
<circle cx="344.5" cy="179.5" r="2.7"/>
<circle cx="344.7" cy="179.6" r="2.7"/>
<circle cx="345.1" cy="180.7" r="2.7"/>
<circle cx="345.3" cy="178.9" r="2.7"/>
</g>
<g fill="#12908c" stroke="#12908c">
<circle cx="345.7" cy="179.6" r="2.7"/>
</g>
<g fill="#46c554" stroke="#46c554">
<circle cx="346" cy="181.5" r="2.7"/>
</g>
<g fill="#12908c" stroke="#12908c">
<circle cx="346.4" cy="179.5" r="2.7"/>
</g>
<g fill="#46c554" stroke="#46c554">
<circle cx="346.9" cy="181.2" r="2.7"/>
<circle cx="347" cy="182" r="2.7"/>
<circle cx="347.3" cy="181.7" r="2.7"/>
</g>
<g fill="#12908c" stroke="#12908c">
<circle cx="347.7" cy="179.7" r="2.7"/>
</g>
<g fill="#1a5290" stroke="#1a5290">
<circle cx="346.6" cy="178.2" r="2.7"/>
</g>
<g fill="#46c554" stroke="#46c554">
<circle cx="346.9" cy="180.3" r="2.7"/>
<circle cx="347.6" cy="182.7" r="2.7"/>
</g>
<g fill="#12908c" stroke="#12908c">
<circle cx="348.4" cy="181.2" r="2.7"/>
</g>
<g fill="#46c554" stroke="#46c554">
<circle cx="349.2" cy="181.3" r="2.7"/>
<circle cx="350" cy="183.7" r="2.7"/>
</g>
<g fill="#12908c" stroke="#12908c">
<circle cx="350.5" cy="183.6" r="2.7"/>
</g>
<g fill="#46c554" stroke="#46c554">
<circle cx="351.3" cy="185.5" r="2.7"/>
<circle cx="352.3" cy="183.2" r="2.7"/>
<circle cx="353.1" cy="182.9" r="2.7"/>
</g>
<g fill="#12908c" stroke="#12908c">
<circle cx="353.2" cy="186.3" r="2.7"/>
<circle cx="354.4" cy="186.8" r="2.7"/>
<circle cx="354.8" cy="185.6" r="2.7"/>
</g>
<g fill="#46c554" stroke="#46c554">
<circle cx="355.9" cy="189.2" r="2.7"/>
</g>
<g fill="#1a5290" stroke="#1a5290">
<circle cx="356.4" cy="193" r="2.7"/>
<circle cx="360" cy="192.1" r="2.7"/>
<circle cx="368" cy="198.4" r="2.7"/>
<circle cx="369.8" cy="194.8" r="2.7"/>
<circle cx="368.5" cy="197.9" r="2.7"/>
</g>
<g fill="#12908c" stroke="#12908c">
<circle cx="358.2" cy="195.7" r="2.7"/>
</g>
<g fill="#46c554" stroke="#46c554">
<circle cx="312.8" cy="134" r="2.7"/>
</g>
<g fill="#12908c" stroke="#12908c">
<circle cx="314.7" cy="133.1" r="2.7"/>
</g>
<g fill="#1a5290" stroke="#1a5290">
<circle cx="316.3" cy="135.8" r="2.7"/>
</g>
<g fill="#12908c" stroke="#12908c">
<circle cx="317.9" cy="135.6" r="2.7"/>
</g>
<g fill="#46c554" stroke="#46c554">
<circle cx="319.9" cy="140.1" r="2.7"/>
<circle cx="322.2" cy="139.9" r="2.7"/>
</g>
<g fill="#12908c" stroke="#12908c">
<circle cx="324.5" cy="141.7" r="2.7"/>
</g>
<g fill="#1a5290" stroke="#1a5290">
<circle cx="325.6" cy="141.3" r="2.7"/>
</g>
<g fill="#46c554" stroke="#46c554">
<circle cx="327.6" cy="143.8" r="2.7"/>
<circle cx="330.2" cy="145.2" r="2.7"/>
</g>
<g fill="#12908c" stroke="#12908c">
<circle cx="331.8" cy="146.8" r="2.7"/>
</g>
<g fill="#1a5290" stroke="#1a5290">
<circle cx="332.8" cy="145.5" r="2.7"/>
</g>
<g fill="#12908c" stroke="#12908c">
<circle cx="334.8" cy="148.9" r="2.7"/>
</g>
<g fill="#1a5290" stroke="#1a5290">
<circle cx="337.5" cy="153.1" r="2.7"/>
</g>
<g fill="#46c554" stroke="#46c554">
<circle cx="339" cy="150.8" r="2.7"/>
<circle cx="340.5" cy="154.6" r="2.7"/>
<circle cx="343.9" cy="154.1" r="2.7"/>
</g>
<g fill="#1a5290" stroke="#1a5290">
<circle cx="345.4" cy="155.5" r="2.7"/>
</g>
<g fill="#12908c" stroke="#12908c">
<circle cx="346.2" cy="158.8" r="2.7"/>
</g>
<g fill="#1a5290" stroke="#1a5290">
<circle cx="348.1" cy="160.4" r="2.7"/>
</g>
<g fill="#46c554" stroke="#46c554">
<circle cx="349.9" cy="162.5" r="2.7"/>
<circle cx="352.9" cy="162.2" r="2.7"/>
</g>
<g fill="#1a5290" stroke="#1a5290">
<circle cx="354.2" cy="163.3" r="2.7"/>
</g>
<g fill="#46c554" stroke="#46c554">
<circle cx="356.7" cy="166.6" r="2.7"/>
<circle cx="358.8" cy="170.4" r="2.7"/>
</g>
<g fill="#12908c" stroke="#12908c">
<circle cx="359.7" cy="168.2" r="2.7"/>
</g>
<g fill="#46c554" stroke="#46c554">
<circle cx="362.8" cy="173.4" r="2.7"/>
</g>
<g fill="#12908c" stroke="#12908c">
<circle cx="363.6" cy="171" r="2.7"/>
</g>
<g fill="#46c554" stroke="#46c554">
<circle cx="366.4" cy="171.8" r="2.7"/>
<circle cx="368.4" cy="175.5" r="2.7"/>
<circle cx="368.6" cy="175.1" r="2.7"/>
</g>
<g fill="#12908c" stroke="#12908c">
<circle cx="372.3" cy="177.8" r="2.7"/>
</g>
<g fill="#1a5290" stroke="#1a5290">
<circle cx="374" cy="180.1" r="2.7"/>
<circle cx="374.6" cy="180.1" r="2.7"/>
</g>
<g fill="#46c554" stroke="#46c554">
<circle cx="377.2" cy="183" r="2.7"/>
</g>
<g fill="#fbe018" stroke="#fbe018">
<circle cx="325" cy="142.1" r="2.7"/>
</g>
<g fill="#46c554" stroke="#46c554">
<circle cx="318.5" cy="113.2" r="2.7"/>
<circle cx="323.1" cy="117.4" r="2.7"/>
<circle cx="325.6" cy="123.9" r="2.7"/>
</g>
<g fill="#12908c" stroke="#12908c">
<circle cx="330.5" cy="123.5" r="2.7"/>
</g>
<g fill="#46c554" stroke="#46c554">
<circle cx="335.8" cy="127.6" r="2.7"/>
</g>
<g fill="#12908c" stroke="#12908c">
<circle cx="338.7" cy="129.5" r="2.7"/>
</g>
<g fill="#46c554" stroke="#46c554">
<circle cx="340" cy="131.8" r="2.7"/>
<circle cx="345.1" cy="132.5" r="2.7"/>
<circle cx="349.7" cy="137.5" r="2.7"/>
</g>
<g fill="#1a5290" stroke="#1a5290">
<circle cx="351.2" cy="140.6" r="2.7"/>
</g>
<g fill="#46c554" stroke="#46c554">
<circle cx="354.9" cy="139.2" r="2.7"/>
<circle cx="360.3" cy="146.5" r="2.7"/>
<circle cx="364.3" cy="149.4" r="2.7"/>
<circle cx="365.3" cy="150.1" r="2.7"/>
</g>
<g fill="#12908c" stroke="#12908c">
<circle cx="370" cy="152.1" r="2.7"/>
</g>
<g fill="#1a5290" stroke="#1a5290">
<circle cx="375.3" cy="157.3" r="2.7"/>
<circle cx="375.4" cy="157.3" r="2.7"/>
<circle cx="380.4" cy="162.4" r="2.7"/>
<circle cx="384.4" cy="163.3" r="2.7"/>
</g>
<g fill="#46c554" stroke="#46c554">
<circle cx="387.6" cy="167" r="2.7"/>
<circle cx="392.4" cy="172.3" r="2.7"/>
</g>
<g fill="#1a5290" stroke="#1a5290">
<circle cx="394.2" cy="174.4" r="2.7"/>
</g>
<g fill="#46c554" stroke="#46c554">
<circle cx="400" cy="176.2" r="2.7"/>
<circle cx="402.4" cy="177.4" r="2.7"/>
</g>
</g>
<path fill="#fff" fill-opacity=".95" d="M128.7 337.4h4.4v2h-4.4zM133.3 333.4h4.4v2h-4.4zM138 330.4h4.4v2h-4.4zM142.6 326.4h4.4v2h-4.4zM147.2 323.4h4.4v2h-4.4zM151.8 319.4h4.4v2h-4.4zM156.4 316.4h4.4v2h-4.4zM161 312.4h4.4v2h-4.4zM166.2 45.7h1.6v1.7h-1.6zM168.6 45.7h1.6v1.7h-1.6zM165.7 309.4h4.4v2h-4.4zM170.8 51.7h1.6v1.7h-1.6zM173.2 51.7h1.6v1.7h-1.6zM170.3 305.4h4.4v2h-4.4zM175.4 56.7h1.6v1.7h-1.6zM177.8 56.7h1.6v1.7h-1.6zM174.9 302.4h4.4v2h-4.4zM180 61.7h1.6v1.7h-1.6zM182.4 61.7h1.6v1.7h-1.6zM179.5 298.4h4.4v2h-4.4zM184.6 67.7h1.6v1.7h-1.6zM187 67.7h1.6v1.7h-1.6zM184.1 295.4h4.4v2h-4.4zM189.2 72.7h1.6v1.7h-1.6zM191.6 72.7h1.6v1.7h-1.6zM188.7 291.4h4.4v2h-4.4zM193.8 78.7h1.6v1.7h-1.6zM196.3 78.7h1.6v1.7h-1.6zM193.3 288.4h4.4v2h-4.4zM198.5 83.7h1.6v1.7h-1.6zM200.9 83.7h1.6v1.7h-1.6zM198 284.4h4.4v2h-4.4zM203.1 89.7h1.6v1.7h-1.6zM205.5 89.7h1.6v1.7h-1.6zM202.6 281.4h4.4v2h-4.4zM207.7 95.7h1.6v1.7h-1.6zM210.1 95.7h1.6v1.7h-1.6zM207.2 277.4h4.4v2h-4.4zM212.3 101.7h1.6v1.7h-1.6zM214.7 101.7h1.6v1.7h-1.6zM211.8 274.4h4.4v2h-4.4zM216.9 107.7h1.6v1.7h-1.6zM219.3 107.7h1.6v1.7h-1.6zM216.4 270.4h4.4v2h-4.4zM221.5 113.7h1.6v1.7h-1.6zM224 113.7h1.6v1.7h-1.6zM221 267.4h4.4v2h-4.4zM226.2 119.7h1.6v1.7h-1.6zM228.6 119.7h1.6v1.7h-1.6zM225.7 263.4h4.4v2h-4.4zM230.8 125.7h1.6v1.7h-1.6zM233.2 125.7h1.6v1.7h-1.6zM230.3 260.4h4.4v2h-4.4zM235.4 131.7h1.6v1.7h-1.6zM237.8 131.7h1.6v1.7h-1.6zM234.9 256.4h4.4v2h-4.4zM240 136.7h1.6v1.7h-1.6zM242.4 136.7h1.6v1.7h-1.6zM239.5 253.4h4.4v2h-4.4zM244.6 142.7h1.6v1.7h-1.6zM247 142.7h1.6v1.7h-1.6zM244.1 249.4h4.4v2h-4.4zM249.2 148.7h1.6v1.7h-1.6zM251.7 148.7h1.6v1.7h-1.6zM248.7 246.4h4.4v2h-4.4zM253.9 154.7h1.6v1.7h-1.6zM256.3 154.7h1.6v1.7h-1.6zM253.4 242.4h4.4v2h-4.4zM258.5 160.7h1.6v1.7h-1.6zM260.9 160.7h1.6v1.7h-1.6zM258 239.4h4.4v2h-4.4zM263.1 166.7h1.6v1.7h-1.6zM265.5 166.7h1.6v1.7h-1.6zM262.6 235.4h4.4v2h-4.4zM267.7 178.7h1.6v1.7h-1.6zM270.1 178.7h1.6v1.7h-1.6zM271.5 182.9h1.2v1.2h-1.2zM271.5 186.5h1.2v1.2h-1.2zM271.5 190.1h1.2v1.2h-1.2zM271.5 193.7h1.2v1.2h-1.2zM267.2 232.4h4.4v2h-4.4zM272.3 196.7h1.6v1.7h-1.6zM274.7 196.7h1.6v1.7h-1.6zM276.1 200.9h1.2v1.2h-1.2zM276.1 204.5h1.2v1.2h-1.2zM276.1 208.1h1.2v1.2h-1.2zM276.1 211.7h1.2v1.2h-1.2zM271.8 228.4h4.4v2h-4.4zM276.9 213.7h1.6v1.7h-1.6zM279.4 213.7h1.6v1.7h-1.6zM276.4 225.4h4.4v2h-4.4zM285.3 220.8h1.3v2.6h-1.3zM289.9 169.8h1.3v2.6h-1.3zM289.9 218.8h1.3v2.6h-1.3zM294.6 170.8h1.3v2.6h-1.3zM294.6 217.8h1.3v2.6h-1.3zM299.2 171.8h1.3v2.6h-1.3zM299.2 215.8h1.3v2.6h-1.3zM303.8 173.8h1.3v2.6h-1.3zM303.8 213.8h1.3v2.6h-1.3zM308.4 174.8h1.3v2.6h-1.3zM308.4 211.8h1.3v2.6h-1.3zM313 175.8h1.3v2.6h-1.3zM309.2 211.7h1.6v1.7h-1.6zM311.7 211.7h1.6v1.7h-1.6zM317.6 176.8h1.3v2.6h-1.3zM313.9 208.7h1.6v1.7h-1.6zM316.3 208.7h1.6v1.7h-1.6zM317.6 209.8h1.3v2.6h-1.3zM322.2 177.8h1.3v2.6h-1.3zM318.5 205.7h1.6v1.7h-1.6zM320.9 205.7h1.6v1.7h-1.6zM322.2 207.8h1.3v2.6h-1.3zM326.9 178.8h1.3v2.6h-1.3zM323.1 202.7h1.6v1.7h-1.6zM325.5 202.7h1.6v1.7h-1.6zM326.9 206.8h1.3v2.6h-1.3zM331.5 179.8h1.3v2.6h-1.3zM327.7 199.7h1.6v1.7h-1.6zM330.1 199.7h1.6v1.7h-1.6zM331.5 205.8h1.3v2.6h-1.3zM332.3 196.7h1.6v1.7h-1.6zM334.7 196.7h1.6v1.7h-1.6zM336.1 204.8h1.3v2.6h-1.3zM340.7 180.8h1.3v2.6h-1.3zM336.9 193.7h1.6v1.7h-1.6zM339.4 193.7h1.6v1.7h-1.6zM340.7 203.8h1.3v2.6h-1.3zM341.6 190.7h1.6v1.7h-1.6zM344 190.7h1.6v1.7h-1.6zM345.3 202.8h1.3v2.6h-1.3zM346.2 186.7h1.6v1.7h-1.6zM348.6 186.7h1.6v1.7h-1.6zM349.9 201.8h1.3v2.6h-1.3zM350.8 181.7h1.6v1.7h-1.6zM353.2 181.7h1.6v1.7h-1.6zM350.8 183.7h1.6v1.7h-1.6zM353.2 183.7h1.6v1.7h-1.6zM354.6 200.8h1.3v2.6h-1.3zM359.2 180.8h1.3v2.6h-1.3zM359.2 199.8h1.3v2.6h-1.3zM363.8 179.8h1.3v2.6h-1.3zM363.8 198.8h1.3v2.6h-1.3zM368.4 178.8h1.3v2.6h-1.3zM368.4 197.8h1.3v2.6h-1.3zM373 177.8h1.3v2.6h-1.3zM373 196.8h1.3v2.6h-1.3zM377.6 176.8h1.3v2.6h-1.3zM377.6 195.8h1.3v2.6h-1.3zM382.3 175.8h1.3v2.6h-1.3zM382.3 194.8h1.3v2.6h-1.3zM386.9 193.8h1.3v2.6h-1.3zM391.5 174.8h1.3v2.6h-1.3zM391.5 191.8h1.3v2.6h-1.3zM396.1 173.8h1.3v2.6h-1.3zM396.1 190.8h1.3v2.6h-1.3zM400.7 172.8h1.3v2.6h-1.3zM400.7 189.8h1.3v2.6h-1.3zM405.3 171.8h1.3v2.6h-1.3zM405.3 188.8h1.3v2.6h-1.3zM410 170.8h1.3v2.6h-1.3zM410 187.8h1.3v2.6h-1.3zM414.6 169.8h1.3v2.6h-1.3zM414.6 186.8h1.3v2.6h-1.3zM419.2 168.8h1.3v2.6h-1.3zM419.2 185.8h1.3v2.6h-1.3zM423.8 167.8h1.3v2.6h-1.3zM423.8 184.8h1.3v2.6h-1.3zM428.4 166.8h1.3v2.6h-1.3zM428.4 183.8h1.3v2.6h-1.3zM433 182.8h1.3v2.6h-1.3zM437.6 165.8h1.3v2.6h-1.3zM437.6 181.8h1.3v2.6h-1.3zM442.3 164.8h1.3v2.6h-1.3zM442.3 180.8h1.3v2.6h-1.3zM446.9 163.8h1.3v2.6h-1.3zM446.9 179.8h1.3v2.6h-1.3zM451.5 162.8h1.3v2.6h-1.3zM451.5 178.8h1.3v2.6h-1.3zM456.1 161.8h1.3v2.6h-1.3zM456.1 176.8h1.3v2.6h-1.3zM460.7 160.8h1.3v2.6h-1.3zM460.7 175.8h1.3v2.6h-1.3zM465.3 159.8h1.3v2.6h-1.3zM465.3 174.8h1.3v2.6h-1.3zM470 158.8h1.3v2.6h-1.3zM470 173.8h1.3v2.6h-1.3zM474.6 157.8h1.3v2.6h-1.3zM474.6 172.8h1.3v2.6h-1.3zM479.2 171.8h1.3v2.6h-1.3zM483.8 156.8h1.3v2.6h-1.3zM483.8 170.8h1.3v2.6h-1.3zM488.4 155.8h1.3v2.6h-1.3zM488.4 169.8h1.3v2.6h-1.3zM493 154.8h1.3v2.6h-1.3zM493 168.8h1.3v2.6h-1.3zM497.7 153.8h1.3v2.6h-1.3zM497.7 167.8h1.3v2.6h-1.3zM502.3 152.8h1.3v2.6h-1.3zM502.3 166.8h1.3v2.6h-1.3zM506.9 151.8h1.3v2.6h-1.3zM506.9 165.8h1.3v2.6h-1.3zM511.5 150.8h1.3v2.6h-1.3zM511.5 164.8h1.3v2.6h-1.3zM516.1 149.8h1.3v2.6h-1.3zM516.1 163.8h1.3v2.6h-1.3zM520.7 148.8h1.3v2.6h-1.3zM520.7 162.8h1.3v2.6h-1.3zM521.6 148.7h1.6v1.7h-1.6zM524 148.7h1.6v1.7h-1.6zM521.6 162.7h1.6v1.7h-1.6zM524 162.7h1.6v1.7h-1.6z"/>
<rect x="42" y="31" width="507" height="323" fill="none" stroke="#333" stroke-width=".85"/>
<g stroke="#333" stroke-width="1.1">
<line x1="148.35" x2="148.35" y1="354.5" y2="358.2"/>
<line x1="260.2" x2="260.2" y1="354.5" y2="358.2"/>
<line x1="372.05" x2="372.05" y1="354.5" y2="358.2"/>
<line x1="483.9" x2="483.9" y1="354.5" y2="358.2"/>
<line x1="38.3" x2="41.5" y1="80.3" y2="80.3"/>
<line x1="38.3" x2="41.5" y1="173.3" y2="173.3"/>
<line x1="38.3" x2="41.5" y1="266.3" y2="266.3"/>
</g>
<g class="tx" font-size="11.73" fill="#4d4d4d">
<text x="148.35" y="369.8" text-anchor="middle">-2.5</text>
<text x="260.2" y="369.8" text-anchor="middle">0.0</text>
<text x="372.05" y="369.8" text-anchor="middle">2.5</text>
<text x="483.9" y="369.8" text-anchor="middle">5.0</text>
<text x="35.3" y="84.7" text-anchor="end">4</text>
<text x="35.3" y="177.7" text-anchor="end">0</text>
<text x="35.3" y="270.7" text-anchor="end">-4</text>
</g>
<g class="tx">
<text x="295.5" y="387.1" font-size="14.67" text-anchor="middle" fill="#000">LD1</text>
<text transform="translate(18.1,193) rotate(-90)" font-size="14.67" text-anchor="middle" fill="#000">LD2</text>
<text x="42" y="21.3" font-size="17.6" fill="#000">Scatter plot of the first two linear discriminant scores</text>
<text x="549" y="406.2" font-size="11.73" text-anchor="end" fill="#000">Node 1</text>
<text x="570.8" y="136.8" font-size="14.67" fill="#000">response</text>
</g>
<g class="pt">
<circle cx="582.4" cy="157" r="2.7" fill="#3e0252" stroke="#3e0252"/>
<circle cx="582.4" cy="180" r="2.7" fill="#1a5290" stroke="#1a5290"/>
<circle cx="582.4" cy="203.1" r="2.7" fill="#12908c" stroke="#12908c"/>
<circle cx="582.4" cy="226.1" r="2.7" fill="#46c554" stroke="#46c554"/>
<circle cx="582.4" cy="249.2" r="2.7" fill="#fbe018" stroke="#fbe018"/>
</g><g class="tx" font-size="11.73" fill="#000">
<text x="601.5" y="161.5">Fair</text>
<text x="601.5" y="184.5">Good</text>
<text x="601.5" y="207.6">Very Good</text>
<text x="601.5" y="230.6">Premium</text>
<text x="601.5" y="253.7">Ideal</text>
</g>
</svg></body></html>
